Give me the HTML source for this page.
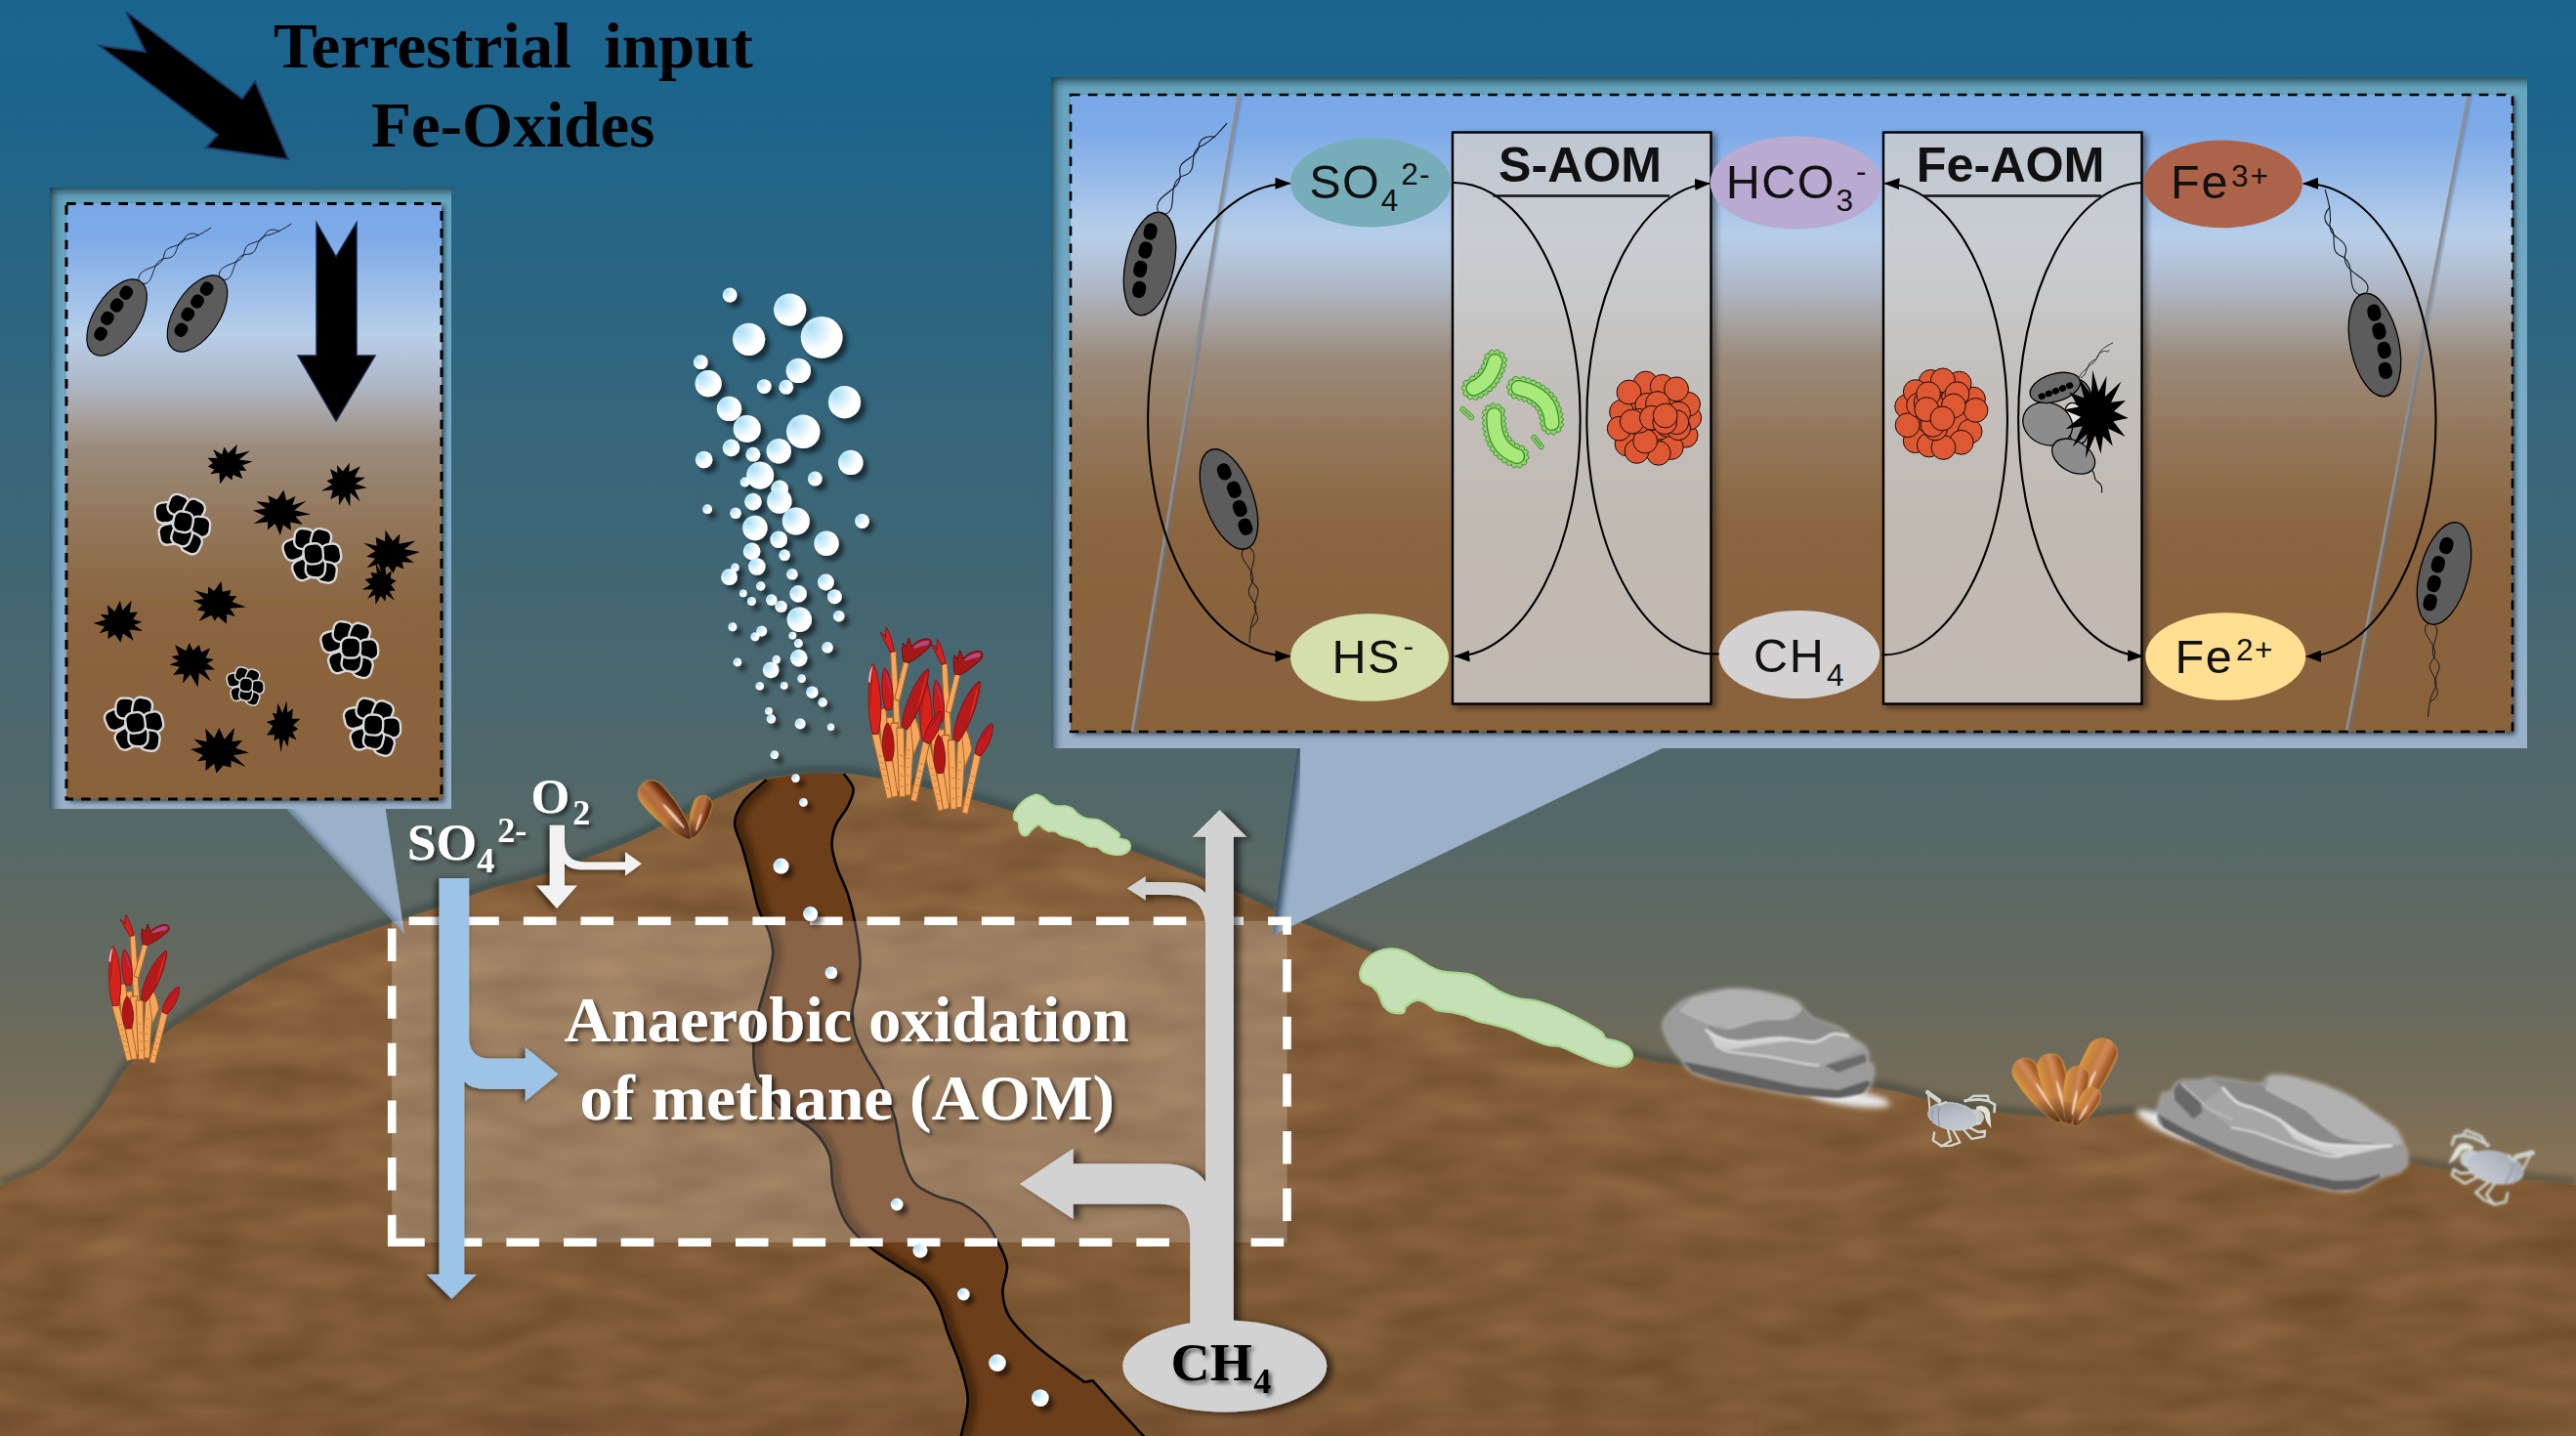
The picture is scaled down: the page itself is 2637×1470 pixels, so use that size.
<!DOCTYPE html>
<html><head><meta charset="utf-8"><title>AOM schematic</title>
<style>
html,body{margin:0;padding:0;background:#1b6389;overflow:hidden}
svg{display:block}
text{font-family:"Liberation Serif",serif;font-weight:bold}
.sans{font-family:"Liberation Sans",sans-serif;font-weight:normal}
.sansb{font-family:"Liberation Sans",sans-serif;font-weight:bold}
</style></head><body>
<svg width="2637" height="1470" viewBox="0 0 2637 1470">
<defs>
<linearGradient id="water" x1="0" y1="0" x2="0" y2="1">
<stop offset="0" stop-color="#1a6590"/><stop offset="0.06" stop-color="#1b648c"/><stop offset="0.56" stop-color="#536869"/><stop offset="0.70" stop-color="#68695d"/><stop offset="0.76" stop-color="#756c58"/><stop offset="0.82" stop-color="#8a7355"/><stop offset="1" stop-color="#96734b"/></linearGradient>
<filter id="sedtex" x="0" y="0" width="100%" height="100%" color-interpolation-filters="sRGB">
<feTurbulence type="fractalNoise" baseFrequency="0.012 0.034" numOctaves="2" seed="11" result="n"/>
<feColorMatrix in="n" type="matrix" values="0.17 0 0 0 0.44  0.152 0 0 0 0.3  0.125 0 0 0 0.166  0 0 0 0 1"/>
</filter>
<linearGradient id="seddk" x1="0" y1="0" x2="0" y2="1"><stop offset="0" stop-color="#3a2208" stop-opacity="0"/><stop offset="1" stop-color="#3a2208" stop-opacity="0.14"/></linearGradient>
<clipPath id="sedclip"><path d="M0,1214 C8.3,1210.2 33.3,1203.7 50,1191 C66.7,1178.3 86.7,1154.3 100,1138 C113.3,1121.7 118.3,1106.5 130,1093 C141.7,1079.5 154.0,1069.0 170,1057 C186.0,1045.0 204.2,1033.7 226,1021 C247.8,1008.3 271.8,993.7 301,981 C330.2,968.3 376.0,953.8 401,945 C426.0,936.2 434.3,933.8 451,928 C467.7,922.2 484.3,915.2 501,910 C517.7,904.8 534.2,902.3 551,897 C567.8,891.7 585.2,884.5 602,878 C618.8,871.5 635.3,865.5 652,858 C668.7,850.5 685.3,841.2 702,833 C718.7,824.8 738.2,815.0 752,809 C765.8,803.0 772.8,799.8 785,797 C797.2,794.2 811.5,792.8 825,792 C838.5,791.2 853.3,791.2 866,792 C878.7,792.8 887.0,794.5 901,797 C915.0,799.5 933.3,803.2 950,807 C966.7,810.8 975.8,812.8 1001,820 C1026.2,827.2 1076.0,842.0 1101,850 C1126.0,858.0 1125.8,858.5 1151,868 C1176.2,877.5 1223.5,895.0 1252,907 C1280.5,919.0 1296.7,928.7 1322,940 C1347.3,951.3 1373.0,961.7 1404,975 C1435.0,988.3 1475.3,1006.5 1508,1020 C1540.7,1033.5 1572.3,1045.7 1600,1056 C1627.7,1066.3 1654.8,1076.3 1674,1082 C1693.2,1087.7 1694.0,1087.0 1715,1090 C1736.0,1093.0 1765.3,1096.0 1800,1100 C1834.7,1104.0 1893.8,1109.7 1923,1114 C1952.2,1118.3 1953.3,1121.7 1975,1126 C1996.7,1130.3 2027.2,1136.8 2053,1140 C2078.8,1143.2 2108.5,1145.0 2130,1145 C2151.5,1145.0 2165.3,1139.8 2182,1140 C2198.7,1140.2 2205.3,1141.7 2230,1146 C2254.7,1150.3 2290.3,1158.3 2330,1166 C2369.7,1173.7 2429.7,1185.5 2468,1192 C2506.3,1198.5 2531.8,1201.5 2560,1205 C2588.2,1208.5 2624.2,1211.7 2637,1213 L2637,1470 L0,1470 Z"/></clipPath>
<linearGradient id="insg" x1="0" y1="0" x2="0" y2="1">
<stop offset="0" stop-color="#79a7e8"/><stop offset="0.06" stop-color="#7eabe8"/><stop offset="0.22" stop-color="#b7cee9"/>
<stop offset="0.30" stop-color="#afb8c8"/><stop offset="0.35" stop-color="#a8a5a6"/><stop offset="0.41" stop-color="#9b8b7c"/>
<stop offset="0.53" stop-color="#93775b"/><stop offset="0.68" stop-color="#8a653f"/><stop offset="1" stop-color="#89623b"/></linearGradient>
<filter id="blur3" x="-10%" y="-10%" width="120%" height="120%"><feGaussianBlur stdDeviation="3"/></filter>
<filter id="blur5" x="-10%" y="-10%" width="120%" height="120%"><feGaussianBlur stdDeviation="5"/></filter>
<filter id="blur2" x="-10%" y="-10%" width="120%" height="120%"><feGaussianBlur stdDeviation="2"/></filter>
<filter id="blur1" x="-10%" y="-10%" width="120%" height="120%"><feGaussianBlur stdDeviation="1.2"/></filter>
<filter id="shIn" x="-3%" y="-3%" width="108%" height="108%"><feGaussianBlur in="SourceAlpha" stdDeviation="2.5"/><feOffset dx="3" dy="3"/><feComponentTransfer><feFuncA type="linear" slope="0.55"/></feComponentTransfer><feMerge><feMergeNode/><feMergeNode in="SourceGraphic"/></feMerge></filter>
<clipPath id="coL"><path d="M291,826 L394.3,826 L414.1,956 Z"/></clipPath><clipPath id="coR"><path d="M1327.8,764 L1706,764 L1301.7,958 Z"/></clipPath>
<linearGradient id="gfcl" gradientUnits="userSpaceOnUse" x1="0" y1="192" x2="0" y2="828"><stop offset="0" stop-color="#65a3bd"/><stop offset="0.5" stop-color="#7aabc8"/><stop offset="1" stop-color="#9ab1c9"/></linearGradient>
<linearGradient id="gfcr" gradientUnits="userSpaceOnUse" x1="0" y1="79" x2="0" y2="766"><stop offset="0" stop-color="#65a3bd"/><stop offset="0.5" stop-color="#7aabc8"/><stop offset="1" stop-color="#9ab1c9"/></linearGradient>
<g id="bact"><ellipse cx="0" cy="0" rx="23" ry="44" fill="#5c5c5c" stroke="#000" stroke-width="1.2"/>
<g fill="#000"><rect x="-12" y="-33.5" width="12.5" height="14" rx="5.5"/><rect x="-13" y="-17.5" width="12.5" height="14" rx="5.5"/><rect x="-14" y="-1" width="12.5" height="14" rx="5.5"/><rect x="-11" y="16" width="12.5" height="14" rx="5.5"/></g></g>
<g id="flag" fill="none" stroke="#101820" stroke-width="1.1"><path d="M-3,0 C-17,-14 11,-30 -2,-46 C-11,-58 9,-66 2,-80 C0,-88 6,-93 13,-95"/><path d="M3,0 C19,-10 -13,-30 4,-46 C15,-58 -7,-68 6,-82 C12,-92 14,-100 17,-113"/></g>
<filter id="shBox" x="-10%" y="-5%" width="125%" height="112%"><feGaussianBlur in="SourceAlpha" stdDeviation="3"/><feOffset dx="4" dy="3"/><feComponentTransfer><feFuncA type="linear" slope="0.55"/></feComponentTransfer><feMerge><feMergeNode/><feMergeNode in="SourceGraphic"/></feMerge></filter>
<marker id="ah" viewBox="0 0 16 12" refX="15" refY="6" markerWidth="16" markerHeight="12" markerUnits="userSpaceOnUse" orient="auto-start-reverse"><path d="M0,0 L16,6 L0,12 Z" fill="#000"/></marker>
<clipPath id="rclip"><rect x="1096" y="97" width="1476" height="652"/></clipPath>
<filter id="shL" x="-30%" y="-10%" width="160%" height="120%"><feGaussianBlur in="SourceAlpha" stdDeviation="3.2"/><feOffset dx="-3.5" dy="0.5" result="b"/><feComponentTransfer><feFuncA type="linear" slope="0.62"/></feComponentTransfer><feMerge><feMergeNode/><feMergeNode in="SourceGraphic"/></feMerge></filter>
<filter id="shR" x="-30%" y="-10%" width="160%" height="120%"><feGaussianBlur in="SourceAlpha" stdDeviation="3.5"/><feOffset dx="6" dy="2" result="b"/><feComponentTransfer><feFuncA type="linear" slope="0.6"/></feComponentTransfer><feMerge><feMergeNode/><feMergeNode in="SourceGraphic"/></feMerge></filter>
<filter id="shT" x="-5%" y="-20%" width="110%" height="150%"><feGaussianBlur in="SourceAlpha" stdDeviation="2.2"/><feOffset dx="3" dy="3" result="b"/><feComponentTransfer><feFuncA type="linear" slope="0.6"/></feComponentTransfer><feMerge><feMergeNode/><feMergeNode in="SourceGraphic"/></feMerge></filter>
<clipPath id="chclip"><path d="M784.7,798.1 C780.8,801.8 766.8,812.8 761.4,820.2 C756.0,827.6 752.3,834.8 752.1,842.7 C751.9,850.6 757.3,858.2 760.1,867.8 C762.9,877.4 766.2,889.9 768.9,900.4 C771.6,910.9 773.3,921.3 776.4,930.5 C779.5,939.7 785.3,947.7 787.7,955.6 C790.1,963.5 791.6,969.3 791,978.1 C790.4,986.9 786.4,998.2 783.9,1008.2 C781.4,1018.2 777.8,1027.8 775.7,1038.3 C773.6,1048.8 771.7,1060.5 771.4,1070.9 C771.1,1081.4 772.2,1094.2 773.9,1101 C775.6,1107.8 776.6,1105.9 781.4,1112 C786.2,1118.1 794.1,1130.0 802.7,1137.6 C811.3,1145.2 825.1,1150.1 832.8,1157.6 C840.5,1165.1 845.8,1173.1 849.1,1182.7 C852.5,1192.3 850.2,1204.0 852.9,1215.3 C855.6,1226.6 859.1,1240.2 865.4,1250.4 C871.7,1260.6 881.3,1269.0 890.5,1276.7 C899.7,1284.4 911.4,1290.7 920.6,1296.8 C929.8,1302.9 939.0,1306.6 945.7,1313.1 C952.4,1319.6 956.5,1326.9 960.7,1335.7 C964.9,1344.5 966.9,1355.3 970.7,1365.8 C974.5,1376.2 979.9,1387.1 983.3,1398.4 C986.6,1409.7 990.8,1421.2 990.8,1433.5 C990.8,1445.8 984.5,1465.6 983.3,1472 L1172.5,1472 C1167.3,1466.4 1150.3,1448.3 1141.3,1438.5 C1132.3,1428.7 1122.5,1417.6 1118.7,1413.4 L1109.9,1414.7 C1106.8,1412.4 1099.7,1407.4 1091.1,1400.9 C1082.5,1394.4 1068.1,1384.6 1058.5,1375.8 C1048.9,1367.0 1038.8,1357.0 1033.4,1348.2 C1028.1,1339.4 1026.8,1331.9 1026.4,1323.1 C1026.0,1314.3 1031.8,1304.4 1030.9,1295.6 C1030.0,1286.8 1024.7,1278.0 1020.9,1270.5 C1017.1,1263.0 1014.2,1256.7 1008.4,1250.4 C1002.5,1244.1 994.2,1237.3 985.8,1232.9 C977.4,1228.5 966.6,1227.9 958.2,1224.1 C949.8,1220.3 941.5,1217.6 935.6,1210.3 C929.8,1203.0 926.4,1191.5 923.1,1180.2 C919.8,1168.9 919.4,1155.0 915.6,1142.6 C911.8,1130.2 905.3,1115.9 900.5,1106 C895.7,1096.1 891.0,1091.3 886.8,1083.4 C882.6,1075.5 877.9,1066.3 875.5,1058.4 C873.1,1050.5 872.2,1043.8 872.5,1035.8 C872.8,1027.8 876.2,1019.5 877.5,1010.7 C878.8,1001.9 880.8,994.0 880.5,983.1 C880.2,972.2 877.6,956.8 875.5,945.5 C873.4,934.2 871.1,925.0 868,915.4 C864.9,905.8 859.4,896.2 856.7,887.9 C854.0,879.5 851.8,872.4 851.6,865.3 C851.4,858.2 852.7,851.9 855.4,845.2 C858.1,838.5 865.0,831.5 868,825.2 C871.0,818.9 874.2,813.1 873.5,807.6 C872.8,802.1 865.3,794.7 863.7,792.1 Q825,789 784.7,798.1 Z"/></clipPath>
<g id="tw"><path d="M55.7,149.8 L48.5,37.4 L43.1,37.8 L49.3,150.2 Z" fill="#f6a75c" stroke="#a4642a" stroke-width="1" stroke-linejoin="round"/><path d="M52.0,80.7 L61.4,47.1 L56.4,45.7 L47.0,79.3 Z" fill="#f6a75c" stroke="#a4642a" stroke-width="1" stroke-linejoin="round"/><path d="M47.5,149.9 L45.5,94.9 L38.5,95.1 L40.5,150.1 Z" fill="#f6a75c" stroke="#a4642a" stroke-width="1" stroke-linejoin="round"/><path d="M53.5,159.8 L50.5,99.8 L43.5,100.2 L46.5,160.2 Z" fill="#f6a75c" stroke="#a4642a" stroke-width="1" stroke-linejoin="round"/><path d="M43.2,38.5 Q38,30 33.2,21.3 Q36.5,22 38.5,26 Q38,20 38.9,16.3 Q44,24 47,37.6 Z" fill="#d42222" stroke="#8a1212" stroke-width="0.9" stroke-linejoin="round"/><path d="M56.2,46.8 Q53.5,38 55.5,30.5 L58.5,33.5 L61,26 Q63.2,30 64,33.5 Q71,26.5 80,26.5 Q85.5,28 82,33.5 Q72,42.5 61.5,47.5 Z" fill="#a41818" stroke="#701010" stroke-width="0.9" stroke-linejoin="round"/><path d="M66,33.6 Q73,28 80.5,28.2 Q82.5,29.5 80,32 Q73,33 66,35.5 Z" fill="#b04a86"/><path d="M44.7,159.7 L38.7,87.5 L31.3,88.1 L38.3,160.3 Z" fill="#f6a75c" stroke="#a4642a" stroke-width="1" stroke-linejoin="round"/><path d="M44.0,88.2 C47.7,78.7 44.5,59.9 38.0,52.6 L36.8,52.8 C33.2,61.1 34.4,80.2 38.8,88.8 Z" fill="#c81c1c" stroke="#8a1212" stroke-width="0.9" stroke-linejoin="round"/><path d="M44.2,75.5 Q42.2,63.0 37.5,53.8 Q39.8,63.3 44.2,75.5 Z" fill="#a33c86"/><path d="M62.9,163.2 L67.0,100.2 L59.0,99.8 L56.1,162.8 Z" fill="#f6a75c" stroke="#a4642a" stroke-width="1" stroke-linejoin="round"/><path d="M65,92 Q71,100 72.5,113 L66,128 L63,101 Z" fill="#f6a75c" stroke="#a4642a" stroke-width="0.9"/><path d="M57.8,164.2 L56.2,104.0 L49.2,104.2 L51.8,164.4 Z" fill="#f6a75c" stroke="#a4642a" stroke-width="1" stroke-linejoin="round"/><path d="M53.2,154.9 L56.2,155.8 M52.9,145.8 L55.9,146.7 M52.5,136.8 L55.5,137.7 M52.1,127.8 L55.1,128.7 " stroke="#b9742f" stroke-width="0.7" fill="none"/><path d="M57.8,153.2 L60.8,154.1 M58.3,145.6 L61.3,146.5 M58.7,138.0 L61.7,138.9 M59.1,130.5 L62.1,131.4 M59.6,122.9 L62.6,123.8 " stroke="#b9742f" stroke-width="0.7" fill="none"/><path d="M59.4,105.6 C69.8,94.9 81.2,67.3 80.8,53.5 L79.8,53.1 C67.8,61.2 54.3,87.8 54.6,103.4 Z" fill="#b51a1a" stroke="#8a1212" stroke-width="0.9" stroke-linejoin="round"/><path d="M69.4,88.5 Q76.9,70.3 79.6,54.8 Q74.5,69.2 69.4,88.5 Z" fill="#e8381f"/><path d="M45.5,164.8 L31.6,108.2 L24.8,110.0 L39.7,166.2 Z" fill="#f6a75c" stroke="#a4642a" stroke-width="1" stroke-linejoin="round"/><path d="M38.8,156.6 L41.8,157.5 M37.4,151.0 L40.4,151.9 M36.0,145.4 L39.0,146.3 M34.5,139.7 L37.5,140.6 M33.1,134.1 L36.1,135.0 M31.6,128.4 L34.6,129.3 " stroke="#b9742f" stroke-width="0.7" fill="none"/><path d="M30.8,109.4 C36.3,94.0 33.7,61.9 26.3,48.9 L25.1,48.9 C20.1,62.5 20.5,94.6 25.6,109.6 Z" fill="#d8221c" stroke="#8a1212" stroke-width="0.9" stroke-linejoin="round"/><path d="M23.1,88.5 Q22.9,67.2 25.8,50.7 Q25.3,67.1 23.1,88.5 Z" fill="#a31616"/><path d="M21.5,64 Q22,54 25.7,49.5 Q23.8,58 23.2,65 Z" fill="#f4b4c0"/><path d="M50.5,163.7 L44.8,131.0 L38.0,132.4 L44.7,164.9 Z" fill="#f6a75c" stroke="#a4642a" stroke-width="1" stroke-linejoin="round"/><path d="M44.2,132.9 C48.5,124.5 46.7,107.2 40.7,100.3 L39.5,100.3 C34.2,107.8 33.9,125.2 39.0,133.1 Z" fill="#b01616" stroke="#8a1212" stroke-width="0.9" stroke-linejoin="round"/><path d="M68.6,168.7 L81.7,117.4 L75.1,115.8 L63.0,167.3 Z" fill="#f6a75c" stroke="#a4642a" stroke-width="1" stroke-linejoin="round"/><path d="M66.1,159.9 L69.1,160.8 M67.6,153.7 L70.6,154.6 M69.1,147.6 L72.1,148.5 M70.6,141.4 L73.6,142.3 M72.1,135.2 L75.1,136.1 " stroke="#b9742f" stroke-width="0.7" fill="none"/><path d="M80.7,118.2 C87.6,113.3 94.4,98.8 93.3,90.6 L92.3,90.0 C84.8,93.6 76.4,107.3 76.1,115.8 Z" fill="#c41c1c" stroke="#8a1212" stroke-width="0.9" stroke-linejoin="round"/><path d="M80.5,106.1 Q85.9,96.9 92.4,91.1 Q87.6,97.9 80.5,106.1 Z" fill="#8e1430"/></g>
<linearGradient id="mus" x1="0" y1="0" x2="1" y2="0"><stop offset="0" stop-color="#d6a048"/><stop offset="0.1" stop-color="#c4863a"/><stop offset="0.32" stop-color="#b06a38"/><stop offset="0.5" stop-color="#b8744a"/><stop offset="0.6" stop-color="#b06438"/><stop offset="0.68" stop-color="#9a5028"/><stop offset="0.82" stop-color="#683016"/><stop offset="0.94" stop-color="#5a2810"/><stop offset="1" stop-color="#8a5020"/></linearGradient>
<linearGradient id="mus2" x1="0" y1="0" x2="1" y2="0"><stop offset="0" stop-color="#dba040"/><stop offset="0.12" stop-color="#cf8c3c"/><stop offset="0.35" stop-color="#c47a40"/><stop offset="0.55" stop-color="#cc8a58"/><stop offset="0.66" stop-color="#c47c48"/><stop offset="0.74" stop-color="#b46a38"/><stop offset="0.9" stop-color="#9a5424"/><stop offset="1" stop-color="#c4883a"/></linearGradient>
<linearGradient id="musd" x1="0" y1="0" x2="0" y2="1"><stop offset="0" stop-color="#000" stop-opacity="0"/><stop offset="0.6" stop-color="#000" stop-opacity="0"/><stop offset="1" stop-color="#2a0e04" stop-opacity="0.7"/></linearGradient>
<filter id="blur06" x="-10%" y="-10%" width="120%" height="120%"><feGaussianBlur stdDeviation="0.7"/></filter>
<filter id="blur08" x="-5%" y="-5%" width="110%" height="110%"><feGaussianBlur stdDeviation="0.9"/></filter>
<filter id="blur4" x="-20%" y="-40%" width="140%" height="180%"><feGaussianBlur stdDeviation="3.2"/></filter>
<linearGradient id="crb" x1="0" y1="0" x2="1" y2="1"><stop offset="0" stop-color="#99a2ad"/><stop offset="0.5" stop-color="#b7bec8"/><stop offset="1" stop-color="#c6ccd2"/></linearGradient>
<g id="crab"><g filter="url(#blur06)"><path d="M52.0,27.6 L60.2,21.9 L74.6,21.6 L75.8,26.3" fill="none" stroke="#cfd6d0" stroke-width="2.3400000000000003" stroke-linecap="round" stroke-linejoin="round"/><path d="M51.4,26.6 L65.8,25.4 L75.2,26.9 L82.1,30.7 L81.5,38.2" fill="none" stroke="#cfd6d0" stroke-width="2.6" stroke-linecap="round" stroke-linejoin="round"/><path d="M14.1,20.1 L15.4,35.1" fill="none" stroke="#cfd6d0" stroke-width="1.9500000000000002" stroke-linecap="round" stroke-linejoin="round"/><path d="M48.9,55.1 L58.3,65.8 L71.4,63.3 L72.1,57.6 L65.2,58.9 L55.1,53.9" fill="none" stroke="#cfd6d0" stroke-width="2.3400000000000003" stroke-linecap="round" stroke-linejoin="round"/><path d="M33.8,55.8 L37.0,67.7 L27.6,73.3 L18.8,67.4 L20.1,59.5" fill="none" stroke="#cfd6d0" stroke-width="2.3400000000000003" stroke-linecap="round" stroke-linejoin="round"/><path d="M38.8,55.8 L46.4,69.5 L37.6,72.7 L26.9,73.0" fill="none" stroke="#cfd6d0" stroke-width="2.3400000000000003" stroke-linecap="round" stroke-linejoin="round"/><path d="M59.5,37.6 L62.7,45.1 L60.2,49.5 L67.0,50.1" fill="none" stroke="#cfd6d0" stroke-width="2.08" stroke-linecap="round" stroke-linejoin="round"/><ellipse cx="61" cy="44" rx="10" ry="8.5" fill="#cdd4d4" opacity="0.9"/><ellipse cx="39" cy="42.8" rx="25.5" ry="13.8" transform="rotate(9 39 42.8)" fill="url(#crb)" stroke="#d4dade" stroke-width="0.8"/><path d="M25.1,31.3 L24.1,42.6 L25.1,53.3" fill="none" stroke="#8a94a2" stroke-width="1.3" stroke-linecap="round" stroke-linejoin="round"/><path d="M18.8,35.1 L17.9,43.2 L18.8,50.1" fill="none" stroke="#96a0ae" stroke-width="1.1700000000000002" stroke-linecap="round" stroke-linejoin="round"/><path d="M13.2,18.2 L25.1,26.9" fill="none" stroke="#cfd6d0" stroke-width="4.42" stroke-linecap="round" stroke-linejoin="round"/><path d="M25.1,31.3 L32.0,28.2" fill="none" stroke="#cfd6d0" stroke-width="2.3400000000000003" stroke-linecap="round" stroke-linejoin="round"/><path d="M63,33 Q74,29.5 77,39 L78.4,55 Q72,48 71.5,40 Q68,36 63.5,36.5 Z" fill="#dfe3da"/></g></g>
<radialGradient id="bub" cx="0.3" cy="0.32" r="0.75" fx="0.22" fy="0.25"><stop offset="0" stop-color="#a9def6"/><stop offset="0.35" stop-color="#d3eefb"/><stop offset="0.7" stop-color="#ffffff"/><stop offset="1" stop-color="#ffffff"/></radialGradient>
<filter id="shBub" x="-5%" y="-5%" width="115%" height="112%"><feGaussianBlur in="SourceAlpha" stdDeviation="2.6"/><feOffset dx="5" dy="5"/><feComponentTransfer><feFuncA type="linear" slope="0.55"/></feComponentTransfer><feMerge><feMergeNode/><feMergeNode in="SourceGraphic"/></feMerge></filter>
</defs>
<rect width="2637" height="1470" fill="url(#water)"/>
<path d="M0,1214 C8.3,1210.2 33.3,1203.7 50,1191 C66.7,1178.3 86.7,1154.3 100,1138 C113.3,1121.7 118.3,1106.5 130,1093 C141.7,1079.5 154.0,1069.0 170,1057 C186.0,1045.0 204.2,1033.7 226,1021 C247.8,1008.3 271.8,993.7 301,981 C330.2,968.3 376.0,953.8 401,945 C426.0,936.2 434.3,933.8 451,928 C467.7,922.2 484.3,915.2 501,910 C517.7,904.8 534.2,902.3 551,897 C567.8,891.7 585.2,884.5 602,878 C618.8,871.5 635.3,865.5 652,858 C668.7,850.5 685.3,841.2 702,833 C718.7,824.8 738.2,815.0 752,809 C765.8,803.0 772.8,799.8 785,797 C797.2,794.2 811.5,792.8 825,792 C838.5,791.2 853.3,791.2 866,792 C878.7,792.8 887.0,794.5 901,797 C915.0,799.5 933.3,803.2 950,807 C966.7,810.8 975.8,812.8 1001,820 C1026.2,827.2 1076.0,842.0 1101,850 C1126.0,858.0 1125.8,858.5 1151,868 C1176.2,877.5 1223.5,895.0 1252,907 C1280.5,919.0 1296.7,928.7 1322,940 C1347.3,951.3 1373.0,961.7 1404,975 C1435.0,988.3 1475.3,1006.5 1508,1020 C1540.7,1033.5 1572.3,1045.7 1600,1056 C1627.7,1066.3 1654.8,1076.3 1674,1082 C1693.2,1087.7 1694.0,1087.0 1715,1090 C1736.0,1093.0 1765.3,1096.0 1800,1100 C1834.7,1104.0 1893.8,1109.7 1923,1114 C1952.2,1118.3 1953.3,1121.7 1975,1126 C1996.7,1130.3 2027.2,1136.8 2053,1140 C2078.8,1143.2 2108.5,1145.0 2130,1145 C2151.5,1145.0 2165.3,1139.8 2182,1140 C2198.7,1140.2 2205.3,1141.7 2230,1146 C2254.7,1150.3 2290.3,1158.3 2330,1166 C2369.7,1173.7 2429.7,1185.5 2468,1192 C2506.3,1198.5 2531.8,1201.5 2560,1205 C2588.2,1208.5 2624.2,1211.7 2637,1213" fill="none" stroke="#1c2a2c" stroke-width="9" opacity="0.38" filter="url(#blur3)" transform="translate(0,-3)"/>
<g clip-path="url(#sedclip)"><rect x="0" y="780" width="2637" height="690" fill="#86603a" filter="url(#sedtex)"/><rect x="0" y="1000" width="2637" height="470" fill="url(#seddk)"/><rect x="0" y="1446" width="1800" height="24" fill="#7a4a3a" opacity="0.2"/></g>
<path d="M291,826 L394.3,826 L414.1,956 Z" fill="#9ab1c9"/>
<g clip-path="url(#coL)"><path d="M289,826 L412.1,956" stroke="#2c4252" stroke-width="9" opacity="0.55" filter="url(#blur3)"/></g>
<path d="M1327.8,764 L1706,764 L1301.7,958 Z" fill="#9ab1c9"/>
<g clip-path="url(#coR)"><path d="M1327.8,760 L1300.7,960" stroke="#2c4252" stroke-width="14" opacity="0.85" filter="url(#blur3)"/></g>
<clipPath id="fcl"><rect x="51" y="192" width="411" height="636"/></clipPath><rect x="51" y="192" width="411" height="636" fill="url(#gfcl)"/><g clip-path="url(#fcl)"><path d="M21,162 H492 V858 H21 Z M54,195 V840 H474 V195 Z" fill="#15303c" fill-rule="evenodd" opacity="0.95" filter="url(#blur5)"/></g><rect x="68" y="208" width="384" height="610" fill="url(#insg)" filter="url(#shIn)"/>
<clipPath id="fcr"><rect x="1076" y="79" width="1511" height="687"/></clipPath><rect x="1076" y="79" width="1511" height="687" fill="url(#gfcr)"/><g clip-path="url(#fcr)"><path d="M1046,49 H2617 V796 H1046 Z M1079,82 V778 H2599 V82 Z" fill="#15303c" fill-rule="evenodd" opacity="0.95" filter="url(#blur5)"/></g><rect x="1096" y="97" width="1476" height="652" fill="url(#insg)" filter="url(#shIn)"/>
<path d="M129,12 L149,53 L102,47 L223,138 L211,151 L295,163 L261,83 L248,101 Z" fill="#000" stroke="#1f3864" stroke-width="2" stroke-linejoin="miter"/>
<path d="M324,228 L344,263 L365,228 V364 H384 L344,431 L305,364 H324 Z" fill="#000" stroke="#14264a" stroke-width="1.5"/>
<use href="#flag" transform="translate(143.6,288.5) rotate(44) scale(0.8)"/><use href="#bact" transform="translate(119.6,325) rotate(33) scale(1,1)"/>
<use href="#flag" transform="translate(226,284.5) rotate(44) scale(0.8)"/><use href="#bact" transform="translate(202,321) rotate(33) scale(1,1)"/>
<path d="M252.3,482.0 L245.3,481.8 L248.3,490.1 L238.3,486.0 L237.5,491.5 L231.5,487.1 L225.2,495.4 L224.4,483.9 L215.1,485.2 L219.5,480.7 L212.9,477.4 L217.8,473.9 L212.5,468.8 L222.3,469.1 L218.2,460.1 L227.1,465.2 L229.5,457.5 L233.6,464.0 L242.9,454.7 L241.0,465.2 L255.9,461.6 L244.9,470.5 L258.8,472.4 L248.2,476.2 Z" fill="#000"/>
<path d="M368.8,513.4 L358.6,504.6 L358.3,518.7 L352.9,508.3 L347.0,517.3 L346.8,506.9 L338.4,511.1 L340.8,501.4 L328.9,502.6 L339.9,496.0 L334.5,492.2 L341.0,489.4 L337.9,479.9 L345.4,484.0 L345.0,476.3 L350.9,482.5 L357.9,473.7 L357.3,482.9 L368.8,477.2 L363.2,488.4 L374.1,488.7 L363.9,495.3 L375.9,499.3 L363.2,501.6 Z" fill="#000"/>
<path d="M297.9,543.0 L289.8,537.3 L286.9,547.9 L281.7,535.9 L274.0,542.2 L274.1,534.3 L259.9,536.0 L271.2,528.2 L258.8,522.4 L272.1,520.5 L262.1,513.3 L276.2,514.8 L274.3,507.3 L283.6,511.6 L290.4,501.5 L293.2,512.6 L302.4,507.9 L299.4,517.2 L313.6,512.7 L301.4,522.2 L318.4,526.4 L302.5,528.8 L309.9,536.9 L297.1,534.5 Z" fill="#000"/>
<path d="M402.6,586.8 L397.1,579.5 L389.6,584.1 L387.5,577.2 L375.5,581.6 L384.2,571.8 L375.1,569.8 L384.3,564.2 L372.2,555.8 L385.7,558.8 L384.7,550.0 L394.1,554.2 L394.5,542.5 L402.1,554.1 L409.3,546.6 L408.4,556.7 L425.3,553.5 L413.9,562.2 L429.8,565.0 L415.6,570.0 L423.8,576.0 L411.5,575.3 L413.4,582.6 L405.8,579.4 Z" fill="#000"/>
<path d="M384.5,619.0 L384.0,608.8 L375.9,612.9 L382.0,603.6 L370.7,603.4 L379.2,598.5 L373.5,592.9 L381.4,591.4 L379.6,585.8 L385.8,587.3 L384.6,575.8 L389.6,584.9 L394.0,576.5 L395.1,588.6 L400.7,584.2 L399.8,592.1 L405.7,594.5 L400.1,598.5 L404.6,604.4 L398.5,605.3 L403.9,614.8 L395.1,608.3 L394.5,615.8 L389.7,610.0 Z" fill="#000"/>
<path d="M203.6,635.9 L210.3,625.9 L201.8,624.4 L206.9,619.2 L197.3,614.7 L208.7,613.1 L199.3,604.4 L212.9,608.0 L213.1,600.5 L219.3,605.1 L226.4,594.9 L227.8,605.7 L236.4,603.9 L234.7,609.9 L242.4,610.2 L237.5,615.9 L251.9,621.4 L235.3,622.7 L240.9,631.1 L232.1,628.5 L231.9,638.7 L223.1,631.0 L219.7,635.7 L216.5,629.8 Z" fill="#000"/>
<path d="M101.7,648.2 L107.2,641.4 L95.6,638.0 L108.3,634.3 L102.5,628.7 L111.2,629.6 L109.7,619.0 L117.4,626.1 L122.9,614.9 L125.4,624.7 L134.7,614.7 L132.8,627.1 L140.9,626.4 L136.3,634.1 L145.3,636.7 L137.3,639.7 L146.1,646.1 L132.6,644.5 L136.8,656.0 L126.1,648.5 L123.4,657.8 L117.8,649.6 L110.4,653.9 L110.9,645.6 Z" fill="#000"/>
<path d="M173.4,680.4 L182.8,676.7 L175.6,672.2 L182.9,670.4 L179.1,660.2 L190.5,666.3 L193.8,658.1 L197.6,665.9 L203.7,660.1 L206.2,667.8 L215.2,663.2 L210.6,673.4 L219.0,674.9 L211.9,679.3 L220.1,685.6 L209.4,685.7 L216.0,697.6 L203.9,688.7 L202.5,703.4 L194.9,690.3 L187.2,699.4 L188.1,689.8 L177.2,690.9 L183.9,682.8 Z" fill="#000"/>
<path d="M272.8,738.9 L281.5,736.6 L278.9,729.8 L283.2,730.9 L284.4,719.5 L289.1,730.0 L293.4,717.4 L294.2,729.4 L299.8,725.5 L298.9,735.7 L307.4,735.7 L300.1,742.5 L305.1,746.3 L299.5,749.8 L303.6,757.4 L295.9,753.9 L294.7,764.5 L290.2,756.4 L287.5,770.2 L285.6,755.5 L280.4,758.6 L281.2,752.3 L273.1,752.5 L279.5,743.3 Z" fill="#000"/>
<path d="M198.5,756.4 L211.7,759.2 L210.2,745.4 L219.3,755.4 L224.3,745.3 L229.7,756.7 L240.2,744.7 L237.5,759.1 L248.3,757.8 L241.1,765.7 L254.9,770.4 L239.0,773.2 L251.5,785.0 L236.6,778.7 L236.4,785.8 L228.6,783.4 L221.5,791.4 L219.1,781.7 L210.4,789.3 L210.8,778.0 L201.8,779.5 L207.9,772.9 L195.0,767.1 L207.3,764.8 Z" fill="#000"/>
<g transform="translate(186,537) rotate(10) scale(1)" fill="#000" stroke="#d9d9d9" stroke-width="2.4"><rect x="-29" y="-19.5" width="20" height="21" rx="7.5" transform="rotate(-15 -19 -9)"/><rect x="-17" y="-29.5" width="20" height="21" rx="7.5" transform="rotate(10 -7 -19)"/><rect x="0" y="-27.5" width="20" height="21" rx="7.5" transform="rotate(20 10 -17)"/><rect x="9" y="-11.5" width="20" height="21" rx="7.5" transform="rotate(-5 19 -1)"/><rect x="3" y="6.5" width="20" height="21" rx="7.5" transform="rotate(15 13 17)"/><rect x="-21" y="1.5" width="20" height="21" rx="7.5" transform="rotate(-20 -11 12)"/><rect x="-8" y="0.5" width="20" height="21" rx="7.5" transform="rotate(10 2 11)"/><rect x="-9" y="-13.5" width="20" height="21" rx="7.5" transform="rotate(0 1 -3)"/></g>
<g transform="translate(320,570) rotate(-5) scale(1)" fill="#000" stroke="#d9d9d9" stroke-width="2.4"><rect x="-29" y="-19.5" width="20" height="21" rx="7.5" transform="rotate(-15 -19 -9)"/><rect x="-17" y="-29.5" width="20" height="21" rx="7.5" transform="rotate(10 -7 -19)"/><rect x="0" y="-27.5" width="20" height="21" rx="7.5" transform="rotate(20 10 -17)"/><rect x="9" y="-11.5" width="20" height="21" rx="7.5" transform="rotate(-5 19 -1)"/><rect x="3" y="6.5" width="20" height="21" rx="7.5" transform="rotate(15 13 17)"/><rect x="-21" y="1.5" width="20" height="21" rx="7.5" transform="rotate(-20 -11 12)"/><rect x="-8" y="0.5" width="20" height="21" rx="7.5" transform="rotate(10 2 11)"/><rect x="-9" y="-13.5" width="20" height="21" rx="7.5" transform="rotate(0 1 -3)"/></g>
<g transform="translate(358,666) rotate(0) scale(1)" fill="#000" stroke="#d9d9d9" stroke-width="2.4"><rect x="-29" y="-19.5" width="20" height="21" rx="7.5" transform="rotate(-15 -19 -9)"/><rect x="-17" y="-29.5" width="20" height="21" rx="7.5" transform="rotate(10 -7 -19)"/><rect x="0" y="-27.5" width="20" height="21" rx="7.5" transform="rotate(20 10 -17)"/><rect x="9" y="-11.5" width="20" height="21" rx="7.5" transform="rotate(-5 19 -1)"/><rect x="3" y="6.5" width="20" height="21" rx="7.5" transform="rotate(15 13 17)"/><rect x="-21" y="1.5" width="20" height="21" rx="7.5" transform="rotate(-20 -11 12)"/><rect x="-8" y="0.5" width="20" height="21" rx="7.5" transform="rotate(10 2 11)"/><rect x="-9" y="-13.5" width="20" height="21" rx="7.5" transform="rotate(0 1 -3)"/></g>
<g transform="translate(251,703) rotate(5) scale(0.66)" fill="#000" stroke="#d9d9d9" stroke-width="2.4"><rect x="-29" y="-19.5" width="20" height="21" rx="7.5" transform="rotate(-15 -19 -9)"/><rect x="-17" y="-29.5" width="20" height="21" rx="7.5" transform="rotate(10 -7 -19)"/><rect x="0" y="-27.5" width="20" height="21" rx="7.5" transform="rotate(20 10 -17)"/><rect x="9" y="-11.5" width="20" height="21" rx="7.5" transform="rotate(-5 19 -1)"/><rect x="3" y="6.5" width="20" height="21" rx="7.5" transform="rotate(15 13 17)"/><rect x="-21" y="1.5" width="20" height="21" rx="7.5" transform="rotate(-20 -11 12)"/><rect x="-8" y="0.5" width="20" height="21" rx="7.5" transform="rotate(10 2 11)"/><rect x="-9" y="-13.5" width="20" height="21" rx="7.5" transform="rotate(0 1 -3)"/></g>
<g transform="translate(138,743) rotate(-8) scale(1)" fill="#000" stroke="#d9d9d9" stroke-width="2.4"><rect x="-29" y="-19.5" width="20" height="21" rx="7.5" transform="rotate(-15 -19 -9)"/><rect x="-17" y="-29.5" width="20" height="21" rx="7.5" transform="rotate(10 -7 -19)"/><rect x="0" y="-27.5" width="20" height="21" rx="7.5" transform="rotate(20 10 -17)"/><rect x="9" y="-11.5" width="20" height="21" rx="7.5" transform="rotate(-5 19 -1)"/><rect x="3" y="6.5" width="20" height="21" rx="7.5" transform="rotate(15 13 17)"/><rect x="-21" y="1.5" width="20" height="21" rx="7.5" transform="rotate(-20 -11 12)"/><rect x="-8" y="0.5" width="20" height="21" rx="7.5" transform="rotate(10 2 11)"/><rect x="-9" y="-13.5" width="20" height="21" rx="7.5" transform="rotate(0 1 -3)"/></g>
<g transform="translate(381,745) rotate(3) scale(1)" fill="#000" stroke="#d9d9d9" stroke-width="2.4"><rect x="-29" y="-19.5" width="20" height="21" rx="7.5" transform="rotate(-15 -19 -9)"/><rect x="-17" y="-29.5" width="20" height="21" rx="7.5" transform="rotate(10 -7 -19)"/><rect x="0" y="-27.5" width="20" height="21" rx="7.5" transform="rotate(20 10 -17)"/><rect x="9" y="-11.5" width="20" height="21" rx="7.5" transform="rotate(-5 19 -1)"/><rect x="3" y="6.5" width="20" height="21" rx="7.5" transform="rotate(15 13 17)"/><rect x="-21" y="1.5" width="20" height="21" rx="7.5" transform="rotate(-20 -11 12)"/><rect x="-8" y="0.5" width="20" height="21" rx="7.5" transform="rotate(10 2 11)"/><rect x="-9" y="-13.5" width="20" height="21" rx="7.5" transform="rotate(0 1 -3)"/></g>
<g clip-path="url(#rclip)"><path d="M1270.5,96 L1161,750" stroke="#5f7896" stroke-width="3" fill="none" opacity="0.55" filter="url(#blur1)"/><path d="M1268.3,96 L1158.8,750" stroke="#8e8e8e" stroke-width="2.8" fill="none"/><path d="M2529.5,96 L2404,750" stroke="#5f7896" stroke-width="3" fill="none" opacity="0.55" filter="url(#blur1)"/><path d="M2527.3,96 L2401.8,750" stroke="#8e8e8e" stroke-width="2.8" fill="none"/></g>
<g filter="url(#shBox)"><rect x="1487" y="135.5" width="264.5" height="585" fill="#dcdcdc" fill-opacity="0.7" stroke="#000" stroke-width="2.4"/></g>
<g filter="url(#shBox)"><rect x="1928" y="135.5" width="264.5" height="585" fill="#dcdcdc" fill-opacity="0.7" stroke="#000" stroke-width="2.4"/></g>
<ellipse cx="1403.1" cy="186.9" rx="82.3" ry="45.6" fill="#76adb9"/>
<ellipse cx="1402" cy="673" rx="81" ry="44.8" fill="#d5dfa9"/>
<ellipse cx="1838.6" cy="187" rx="87.9" ry="47.5" fill="#b9aad2"/>
<ellipse cx="1841.8" cy="670" rx="82.5" ry="45" fill="#d3d1d1"/>
<ellipse cx="2275.5" cy="188.4" rx="81.4" ry="44.8" fill="#ad634a"/>
<ellipse cx="2278.3" cy="672" rx="82" ry="44.8" fill="#ffdf91"/>
<path d="M1487.8,187 A129,242.4 0 0 1 1489.5,671.8" fill="none" stroke="#000" stroke-width="2.1" marker-end="url(#ah)"/>
<path d="M1759.8,669.4 A130.5,240.8 0 0 1 1750,187.8" fill="none" stroke="#000" stroke-width="2.1" marker-end="url(#ah)"/>
<path d="M1926.4,670.4 A127,241.3 0 0 0 1929.5,187.8" fill="none" stroke="#000" stroke-width="2.1" marker-end="url(#ah)"/>
<path d="M2192.8,187 A129.5,242.4 0 0 0 2193.2,671.7" fill="none" stroke="#000" stroke-width="2.1" marker-end="url(#ah)"/>
<path d="M1320.5,187.8 A145.5,242 0 0 0 1320.5,671.8" fill="none" stroke="#000" stroke-width="2.1" marker-start="url(#ah)" marker-end="url(#ah)"/>
<path d="M2358,188 A134,242 0 0 1 2361,672" fill="none" stroke="#000" stroke-width="2.1" marker-start="url(#ah)" marker-end="url(#ah)"/>
<text class="sansb" x="1617.6" y="185.9" font-size="50.1" text-anchor="middle" fill="#111">S-AOM</text>
<path d="M1528.4,200.5 H1709.2 M1968.7,200.5 H2150.9" stroke="#111" stroke-width="2.3"/>
<text class="sansb" x="2058.1" y="185.9" font-size="50.3" text-anchor="middle" fill="#111">Fe-AOM</text>
<text class="sans" x="1340.2" y="203.3" font-size="48.6" letter-spacing="1.4" fill="#111">SO<tspan font-size="31.5" dy="12.4" dx="0.5">4</tspan><tspan font-size="31.5" dy="-26.8" dx="1.5">2-</tspan></text>
<text class="sans" x="1363.6" y="689" font-size="48.6" letter-spacing="1.4" fill="#111">HS<tspan font-size="31.5" dy="-17" dx="2.5">-</tspan></text>
<text class="sans" x="1766.8" y="203.2" font-size="48.6" letter-spacing="1.4" fill="#111">HCO<tspan font-size="31.5" dy="12.6" dx="0.5">3</tspan><tspan font-size="31.5" dy="-29.6" dx="1.5">-</tspan></text>
<text class="sans" x="1795" y="688" font-size="48.6" letter-spacing="1.6" fill="#111">CH<tspan font-size="31.5" dy="13.5" dx="1.5">4</tspan></text>
<text class="sans" x="2222" y="203.2" font-size="48.6" letter-spacing="1.9" fill="#111">Fe<tspan font-size="31.5" dy="-12.4" dx="1.5">3+</tspan></text>
<text class="sans" x="2226.5" y="689.2" font-size="48.6" letter-spacing="1.6" fill="#111">Fe<tspan font-size="31.5" dy="-13.2" dx="2.5">2+</tspan></text>
<use href="#flag" transform="translate(1188,218) rotate(28) scale(1.0)"/><use href="#bact" transform="translate(1177,270) rotate(12) scale(1.08,1.22)"/>
<use href="#flag" transform="translate(1276.5,561) rotate(170) scale(0.85)"/><use href="#bact" transform="translate(1258,511) rotate(-20) scale(-1.08,-1.22)"/>
<use href="#flag" transform="translate(2420,301) rotate(-29) scale(1.0)"/><use href="#bact" transform="translate(2431,353) rotate(-12) scale(-1.08,1.22)"/>
<use href="#flag" transform="translate(2488,638) rotate(173) scale(0.84)"/><use href="#bact" transform="translate(2502,587) rotate(15) scale(1.08,-1.22)"/>
<path d="M1504.7,388.7 L1504.7,387.4 L1504.9,386.6 L1505.2,386.0 L1505.6,385.5 L1506.0,385.2 L1506.5,385.0 L1507.1,385.0 L1507.8,385.1 L1508.6,385.4 L1509.7,386.0 L1509.5,384.7 L1509.5,383.9 L1509.7,383.2 L1509.9,382.7 L1510.3,382.3 L1510.7,382.0 L1511.3,381.9 L1511.9,381.9 L1512.8,381.9 L1514.0,382.3 L1513.5,381.1 L1513.4,380.3 L1513.4,379.6 L1513.5,379.1 L1513.7,378.6 L1514.1,378.2 L1514.6,378.0 L1515.3,377.8 L1516.1,377.7 L1517.4,377.8 L1516.7,376.7 L1516.4,375.9 L1516.2,375.3 L1516.2,374.7 L1516.3,374.2 L1516.6,373.7 L1517.1,373.3 L1517.7,373.0 L1518.5,372.7 L1519.8,372.6 L1518.9,371.7 L1518.4,371.0 L1518.2,370.3 L1518.1,369.7 L1518.1,369.2 L1518.4,368.7 L1518.7,368.2 L1519.3,367.8 L1520.1,367.4 L1521.3,367.1 L1520.5,366.2 L1520.1,365.3 L1520.0,364.5 L1520.1,363.8 L1520.4,363.1 L1520.9,362.6 L1521.6,362.2 L1522.4,362.0 L1523.3,362.0 L1524.5,362.5 L1524.3,361.2 L1524.5,360.3 L1524.9,359.6 L1525.4,359.0 L1526.0,358.6 L1526.8,358.5 L1527.5,358.5 L1528.3,358.8 L1529.0,359.4 L1529.8,360.4 L1530.3,359.3 L1531.0,358.6 L1531.7,358.2 L1532.4,358.0 L1533.2,358.1 L1533.8,358.4 L1534.4,358.8 L1534.9,359.5 L1535.3,360.4 L1535.3,361.7 L1536.4,361.0 L1537.3,360.8 L1538.1,360.9 L1538.8,361.2 L1539.4,361.6 L1539.8,362.2 L1540.0,363.0 L1540.1,363.8 L1539.8,364.7 L1539.1,365.8 L1540.4,365.8 L1541.2,366.2 L1541.9,366.7 L1542.3,367.4 L1542.5,368.1 L1542.5,368.8 L1542.3,369.5 L1541.9,370.2 L1541.2,370.8 L1540.0,371.3 L1541.0,372.1 L1541.5,372.8 L1541.8,373.5 L1542.0,374.2 L1541.9,374.8 L1541.7,375.3 L1541.2,375.8 L1540.7,376.2 L1539.9,376.6 L1538.6,376.8 L1539.5,377.7 L1540.0,378.5 L1540.2,379.2 L1540.2,379.8 L1540.1,380.4 L1539.8,381.0 L1539.4,381.4 L1538.7,381.8 L1537.9,382.1 L1536.6,382.2 L1537.4,383.2 L1537.8,384.0 L1537.9,384.7 L1537.9,385.3 L1537.7,385.9 L1537.4,386.4 L1536.9,386.8 L1536.2,387.1 L1535.4,387.3 L1534.1,387.3 L1534.8,388.3 L1535.0,389.2 L1535.1,389.9 L1535.0,390.6 L1534.7,391.1 L1534.3,391.6 L1533.8,391.9 L1533.1,392.1 L1532.2,392.2 L1530.9,392.0 L1531.5,393.2 L1531.6,394.0 L1531.6,394.8 L1531.4,395.4 L1531.1,395.9 L1530.6,396.3 L1530.0,396.6 L1529.3,396.7 L1528.4,396.7 L1527.2,396.3 L1527.6,397.5 L1527.6,398.4 L1527.5,399.1 L1527.2,399.7 L1526.9,400.2 L1526.3,400.5 L1525.7,400.7 L1525.0,400.8 L1524.1,400.6 L1522.9,400.1 L1523.2,401.3 L1523.1,402.2 L1522.9,402.9 L1522.5,403.5 L1522.1,403.9 L1521.6,404.2 L1520.9,404.3 L1520.2,404.2 L1519.3,404.0 L1518.2,403.3 L1518.3,404.6 L1518.1,405.4 L1517.8,406.1 L1517.4,406.6 L1516.9,407.0 L1516.4,407.2 L1515.7,407.2 L1515.0,407.1 L1514.2,406.7 L1513.2,405.9 L1513.1,407.2 L1512.8,408.0 L1512.3,408.7 L1511.7,409.2 L1511.0,409.4 L1510.3,409.5 L1509.6,409.3 L1508.9,408.9 L1508.2,408.2 L1507.7,407.1 L1506.9,408.1 L1506.2,408.7 L1505.4,408.9 L1504.6,409.0 L1503.9,408.8 L1503.3,408.4 L1502.8,407.9 L1502.4,407.1 L1502.2,406.2 L1502.4,405.0 L1501.2,405.4 L1500.3,405.4 L1499.5,405.2 L1498.9,404.8 L1498.4,404.3 L1498.1,403.6 L1498.0,402.9 L1498.1,402.1 L1498.4,401.2 L1499.3,400.3 L1498.0,400.0 L1497.3,399.5 L1496.7,398.9 L1496.4,398.2 L1496.3,397.4 L1496.4,396.7 L1496.7,396.0 L1497.3,395.4 L1498.1,394.9 L1499.3,394.6 L1498.5,393.7 L1498.1,392.8 L1498.0,392.0 L1498.1,391.3 L1498.4,390.6 L1498.9,390.1 L1499.6,389.7 L1500.4,389.5 L1501.3,389.5 Z" fill="#8ed46c" stroke="#3d8a2c" stroke-width="1" stroke-linejoin="round"/><path d="M1508.5,397.5 Q1526,390 1530.5,370" fill="none" stroke="#3d8a2c" stroke-width="16.2" stroke-linecap="round"/><path d="M1508.5,397.5 Q1526,390 1530.5,370" fill="none" stroke="#a7e97b" stroke-width="13.6" stroke-linecap="round"/>
<path d="M1556.5,387.6 L1557.3,386.6 L1558.0,386.1 L1558.7,385.8 L1559.3,385.7 L1559.8,385.7 L1560.4,385.9 L1560.9,386.3 L1561.3,386.9 L1561.7,387.7 L1561.9,388.9 L1562.8,388.0 L1563.5,387.5 L1564.2,387.2 L1564.8,387.2 L1565.4,387.2 L1565.9,387.5 L1566.3,387.9 L1566.7,388.5 L1567.0,389.3 L1567.2,390.6 L1568.1,389.7 L1568.9,389.3 L1569.6,389.1 L1570.2,389.1 L1570.8,389.2 L1571.3,389.5 L1571.7,390.0 L1572.0,390.6 L1572.3,391.5 L1572.3,392.7 L1573.3,391.9 L1574.1,391.6 L1574.8,391.5 L1575.5,391.5 L1576.0,391.7 L1576.5,392.0 L1576.9,392.5 L1577.1,393.2 L1577.3,394.1 L1577.2,395.3 L1578.3,394.6 L1579.1,394.4 L1579.8,394.3 L1580.5,394.4 L1581.0,394.7 L1581.4,395.1 L1581.7,395.6 L1582.0,396.3 L1582.0,397.2 L1581.8,398.4 L1582.9,397.9 L1583.8,397.7 L1584.5,397.8 L1585.1,397.9 L1585.6,398.2 L1586.0,398.7 L1586.3,399.3 L1586.4,400.0 L1586.3,400.9 L1585.9,402.1 L1587.1,401.7 L1588.0,401.7 L1588.7,401.8 L1589.3,402.0 L1589.8,402.4 L1590.1,402.9 L1590.3,403.5 L1590.3,404.3 L1590.1,405.1 L1589.6,406.3 L1590.8,406.0 L1591.7,406.1 L1592.4,406.3 L1592.9,406.7 L1593.3,407.1 L1593.6,407.7 L1593.7,408.3 L1593.6,409.0 L1593.3,409.9 L1592.6,410.9 L1593.9,410.9 L1594.7,411.1 L1595.4,411.4 L1595.9,411.8 L1596.2,412.3 L1596.4,412.8 L1596.4,413.5 L1596.2,414.2 L1595.8,415.0 L1595.0,415.9 L1596.2,416.0 L1597.0,416.4 L1597.6,416.7 L1598.1,417.2 L1598.4,417.7 L1598.4,418.3 L1598.3,419.0 L1598.1,419.6 L1597.6,420.4 L1596.6,421.2 L1597.9,421.5 L1598.6,421.9 L1599.2,422.4 L1599.6,422.9 L1599.8,423.4 L1599.8,424.0 L1599.6,424.6 L1599.3,425.3 L1598.7,425.9 L1597.6,426.6 L1598.9,427.1 L1599.6,427.5 L1600.1,428.1 L1600.4,428.6 L1600.5,429.2 L1600.5,429.8 L1600.2,430.4 L1599.8,431.0 L1599.2,431.6 L1598.1,432.2 L1599.2,432.7 L1599.9,433.3 L1600.3,434.0 L1600.5,434.7 L1600.5,435.4 L1600.2,436.1 L1599.7,436.7 L1599.1,437.2 L1598.2,437.5 L1597.0,437.5 L1597.7,438.6 L1597.9,439.5 L1597.8,440.3 L1597.6,441.0 L1597.2,441.6 L1596.6,442.0 L1595.9,442.3 L1595.1,442.3 L1594.2,442.1 L1593.1,441.4 L1593.1,442.7 L1592.8,443.6 L1592.3,444.2 L1591.7,444.7 L1591.1,444.9 L1590.3,445.0 L1589.6,444.8 L1588.9,444.4 L1588.3,443.7 L1587.8,442.6 L1587.0,443.6 L1586.3,444.2 L1585.6,444.5 L1584.8,444.5 L1584.1,444.4 L1583.5,444.0 L1583.0,443.5 L1582.6,442.8 L1582.4,441.9 L1582.6,440.6 L1581.5,441.1 L1580.5,441.2 L1579.8,441.0 L1579.1,440.6 L1578.6,440.1 L1578.3,439.5 L1578.2,438.8 L1578.2,438.0 L1578.6,437.1 L1579.4,436.2 L1578.2,435.9 L1577.4,435.5 L1576.8,434.9 L1576.5,434.2 L1576.3,433.6 L1576.4,433.0 L1576.6,432.4 L1577.1,431.9 L1577.7,431.3 L1578.8,430.7 L1577.6,430.2 L1576.9,429.8 L1576.4,429.3 L1576.0,428.8 L1575.9,428.4 L1575.9,427.8 L1576.0,427.3 L1576.4,426.7 L1576.9,426.0 L1577.8,425.2 L1576.6,425.0 L1575.8,424.7 L1575.2,424.4 L1574.8,424.0 L1574.5,423.6 L1574.4,423.1 L1574.5,422.5 L1574.7,421.9 L1575.0,421.1 L1575.7,420.1 L1574.5,420.2 L1573.7,420.1 L1573.0,420.0 L1572.5,419.7 L1572.1,419.4 L1571.9,418.9 L1571.8,418.4 L1571.8,417.7 L1571.9,416.9 L1572.4,415.7 L1571.2,416.1 L1570.4,416.3 L1569.7,416.3 L1569.2,416.1 L1568.7,415.9 L1568.4,415.5 L1568.1,415.0 L1568.0,414.3 L1567.9,413.5 L1568.1,412.3 L1567.0,412.9 L1566.2,413.2 L1565.5,413.3 L1565.0,413.3 L1564.5,413.2 L1564.1,412.9 L1563.7,412.4 L1563.4,411.7 L1563.2,410.9 L1563.2,409.7 L1562.2,410.5 L1561.5,410.9 L1560.8,411.1 L1560.2,411.2 L1559.7,411.1 L1559.3,410.8 L1558.8,410.4 L1558.5,409.8 L1558.2,409.0 L1558.0,407.8 L1557.1,408.7 L1556.4,409.2 L1555.8,409.5 L1555.2,409.6 L1554.7,409.6 L1554.2,409.3 L1553.7,409.0 L1553.3,408.4 L1552.9,407.6 L1552.6,406.4 L1551.8,407.4 L1551.0,407.8 L1550.2,408.0 L1549.4,408.0 L1548.8,407.8 L1548.2,407.4 L1547.8,406.7 L1547.5,406.0 L1547.4,405.1 L1547.8,403.8 L1546.5,404.2 L1545.6,404.1 L1544.9,403.9 L1544.3,403.5 L1543.8,402.9 L1543.6,402.2 L1543.5,401.5 L1543.7,400.7 L1544.2,399.9 L1545.1,399.0 L1543.9,398.7 L1543.2,398.1 L1542.7,397.5 L1542.4,396.8 L1542.3,396.1 L1542.5,395.4 L1542.9,394.8 L1543.5,394.2 L1544.3,393.8 L1545.5,393.6 L1544.7,392.6 L1544.4,391.7 L1544.3,390.9 L1544.5,390.2 L1544.8,389.6 L1545.3,389.1 L1546.0,388.8 L1546.8,388.6 L1547.7,388.7 L1548.9,389.2 L1548.7,388.0 L1548.9,387.1 L1549.3,386.4 L1549.8,385.8 L1550.5,385.5 L1551.1,385.4 L1551.9,385.5 L1552.6,385.8 L1553.4,386.3 Z" fill="#8ed46c" stroke="#3d8a2c" stroke-width="1" stroke-linejoin="round"/><path d="M1554.5,397 Q1588,404 1588.5,433" fill="none" stroke="#3d8a2c" stroke-width="16.2" stroke-linecap="round"/><path d="M1554.5,397 Q1588,404 1588.5,433" fill="none" stroke="#a7e97b" stroke-width="13.6" stroke-linecap="round"/>
<path d="M1539.1,425.4 L1540.2,426.0 L1540.8,426.5 L1541.3,427.1 L1541.5,427.6 L1541.6,428.2 L1541.5,428.7 L1541.3,429.3 L1540.8,429.8 L1540.2,430.4 L1539.1,431.0 L1540.2,431.5 L1540.9,432.0 L1541.4,432.5 L1541.7,433.0 L1541.8,433.5 L1541.8,434.0 L1541.6,434.6 L1541.2,435.2 L1540.6,435.8 L1539.6,436.5 L1540.8,436.9 L1541.5,437.3 L1542.0,437.7 L1542.4,438.2 L1542.6,438.7 L1542.6,439.2 L1542.5,439.8 L1542.2,440.4 L1541.7,441.1 L1540.8,442.0 L1542.0,442.1 L1542.8,442.4 L1543.4,442.8 L1543.8,443.2 L1544.1,443.6 L1544.2,444.1 L1544.2,444.7 L1544.0,445.3 L1543.6,446.1 L1542.9,447.1 L1544.1,447.0 L1545.0,447.1 L1545.6,447.3 L1546.1,447.6 L1546.5,447.9 L1546.7,448.4 L1546.8,448.9 L1546.8,449.6 L1546.6,450.4 L1546.1,451.6 L1547.3,451.2 L1548.2,451.1 L1548.8,451.1 L1549.4,451.3 L1549.8,451.5 L1550.2,451.9 L1550.4,452.4 L1550.5,453.1 L1550.6,453.9 L1550.4,455.2 L1551.5,454.5 L1552.3,454.2 L1553.0,454.0 L1553.5,454.0 L1554.0,454.2 L1554.4,454.5 L1554.8,455.0 L1555.1,455.6 L1555.3,456.4 L1555.4,457.7 L1556.3,456.8 L1557.1,456.4 L1557.9,456.2 L1558.6,456.3 L1559.3,456.6 L1559.9,457.0 L1560.3,457.6 L1560.5,458.4 L1560.5,459.3 L1560.1,460.6 L1561.4,460.3 L1562.3,460.4 L1563.0,460.7 L1563.6,461.2 L1564.0,461.8 L1564.2,462.4 L1564.2,463.2 L1564.0,464.0 L1563.5,464.8 L1562.5,465.5 L1563.7,466.0 L1564.4,466.6 L1564.8,467.3 L1565.1,468.0 L1565.1,468.7 L1564.9,469.4 L1564.5,470.0 L1563.8,470.5 L1563.0,470.9 L1561.7,471.0 L1562.5,472.0 L1562.7,472.9 L1562.7,473.7 L1562.5,474.5 L1562.2,475.1 L1561.6,475.5 L1560.9,475.8 L1560.1,475.9 L1559.2,475.8 L1558.1,475.1 L1558.1,476.4 L1557.9,477.3 L1557.4,478.0 L1556.9,478.5 L1556.2,478.8 L1555.5,478.8 L1554.8,478.7 L1554.0,478.3 L1553.4,477.7 L1552.8,476.6 L1552.1,477.7 L1551.4,478.3 L1550.6,478.6 L1549.9,478.7 L1549.2,478.6 L1548.6,478.3 L1548.2,477.8 L1547.8,477.2 L1547.5,476.4 L1547.4,475.1 L1546.4,476.0 L1545.7,476.3 L1544.9,476.5 L1544.3,476.5 L1543.7,476.3 L1543.2,476.0 L1542.8,475.5 L1542.5,474.8 L1542.3,474.0 L1542.4,472.7 L1541.3,473.4 L1540.5,473.7 L1539.8,473.8 L1539.1,473.7 L1538.6,473.5 L1538.1,473.1 L1537.8,472.5 L1537.6,471.8 L1537.5,470.9 L1537.7,469.7 L1536.6,470.3 L1535.7,470.4 L1535.0,470.4 L1534.3,470.2 L1533.8,469.9 L1533.4,469.5 L1533.2,468.9 L1533.0,468.2 L1533.1,467.3 L1533.4,466.1 L1532.2,466.5 L1531.4,466.5 L1530.6,466.4 L1530.0,466.2 L1529.6,465.8 L1529.2,465.3 L1529.1,464.7 L1529.0,463.9 L1529.2,463.1 L1529.7,461.9 L1528.5,462.2 L1527.6,462.1 L1526.9,461.9 L1526.3,461.6 L1525.9,461.1 L1525.7,460.6 L1525.6,459.9 L1525.6,459.2 L1525.9,458.4 L1526.6,457.3 L1525.3,457.4 L1524.5,457.2 L1523.8,456.9 L1523.3,456.5 L1522.9,456.0 L1522.8,455.4 L1522.8,454.8 L1522.9,454.1 L1523.3,453.3 L1524.1,452.3 L1522.8,452.2 L1522.0,451.9 L1521.4,451.6 L1520.9,451.1 L1520.7,450.6 L1520.5,450.0 L1520.6,449.4 L1520.9,448.7 L1521.3,447.9 L1522.2,447.1 L1521.0,446.8 L1520.2,446.5 L1519.6,446.0 L1519.2,445.5 L1519.0,445.0 L1519.0,444.4 L1519.1,443.7 L1519.4,443.1 L1519.9,442.4 L1520.9,441.6 L1519.7,441.3 L1519.0,440.8 L1518.4,440.3 L1518.1,439.8 L1517.9,439.2 L1517.9,438.7 L1518.1,438.0 L1518.5,437.4 L1519.1,436.8 L1520.2,436.1 L1519.0,435.7 L1518.3,435.1 L1517.8,434.6 L1517.5,434.0 L1517.4,433.5 L1517.4,432.9 L1517.7,432.3 L1518.1,431.7 L1518.7,431.1 L1519.8,430.5 L1518.7,430.0 L1518.0,429.4 L1517.6,428.9 L1517.3,428.3 L1517.2,427.7 L1517.3,427.1 L1517.6,426.6 L1518.1,426.0 L1518.7,425.5 L1519.9,425.0 L1518.8,424.3 L1518.2,423.6 L1517.8,422.9 L1517.7,422.2 L1517.8,421.4 L1518.1,420.8 L1518.6,420.3 L1519.3,419.8 L1520.2,419.6 L1521.5,419.7 L1520.9,418.5 L1520.8,417.6 L1520.9,416.8 L1521.2,416.1 L1521.7,415.6 L1522.3,415.2 L1523.1,415.1 L1523.9,415.1 L1524.7,415.4 L1525.8,416.2 L1525.9,414.9 L1526.3,414.1 L1526.8,413.5 L1527.5,413.1 L1528.2,412.9 L1528.9,412.9 L1529.6,413.2 L1530.2,413.6 L1530.8,414.3 L1531.2,415.6 L1532.1,414.6 L1532.9,414.1 L1533.6,413.9 L1534.4,413.9 L1535.1,414.1 L1535.6,414.6 L1536.1,415.2 L1536.4,415.9 L1536.5,416.8 L1536.2,418.1 L1537.4,417.7 L1538.3,417.8 L1539.1,418.0 L1539.7,418.4 L1540.1,419.0 L1540.4,419.7 L1540.4,420.4 L1540.2,421.2 L1539.8,422.0 Z" fill="#8ed46c" stroke="#3d8a2c" stroke-width="1" stroke-linejoin="round"/><path d="M1529.5,425 Q1528,458 1553,467" fill="none" stroke="#3d8a2c" stroke-width="16.2" stroke-linecap="round"/><path d="M1529.5,425 Q1528,458 1553,467" fill="none" stroke="#a7e97b" stroke-width="13.6" stroke-linecap="round"/>
<g transform="translate(1501.8,423.2) rotate(42)"><rect x="-8.5" y="-2.6" width="17" height="5.2" rx="2.6" fill="#8ed46c" stroke="#3d8a2c" stroke-width="0.9"/><path d="M-5.5,0 H5.5" stroke="#4f9a3a" stroke-width="1.3" stroke-linecap="round"/></g>
<g transform="translate(1574,452.6) rotate(52)"><rect x="-8.5" y="-2.6" width="17" height="5.2" rx="2.6" fill="#8ed46c" stroke="#3d8a2c" stroke-width="0.9"/><path d="M-5.5,0 H5.5" stroke="#4f9a3a" stroke-width="1.3" stroke-linecap="round"/></g>
<circle cx="1693.2" cy="428.9" r="36" fill="#dd5833"/><g fill="#dd5833" stroke="#1a0a05" stroke-width="1"><circle cx="1665.6" cy="454.5" r="12.4"/><circle cx="1725.6" cy="445.7" r="12.4"/><circle cx="1660.0" cy="421.7" r="12.4"/><circle cx="1729.3" cy="427.7" r="12.4"/><circle cx="1710.8" cy="458.0" r="12.4"/><circle cx="1684.7" cy="392.5" r="12.4"/><circle cx="1697.8" cy="463.8" r="12.4"/><circle cx="1728.1" cy="413.8" r="12.4"/><circle cx="1675.5" cy="461.9" r="12.4"/><circle cx="1701.7" cy="395.8" r="12.4"/><circle cx="1657.7" cy="438.7" r="12.4"/><circle cx="1716.1" cy="398.3" r="12.4"/><circle cx="1667.5" cy="401.5" r="12.4"/><circle cx="1718.1" cy="423.5" r="12.4"/><circle cx="1688.3" cy="444.4" r="12.4"/><circle cx="1698.4" cy="437.8" r="12.4"/><circle cx="1706.8" cy="434.8" r="12.4"/><circle cx="1691.9" cy="428.0" r="12.4"/><circle cx="1686.3" cy="414.8" r="12.4"/><circle cx="1684.2" cy="451.6" r="12.4"/><circle cx="1678.1" cy="430.8" r="12.4"/><circle cx="1670.7" cy="431.6" r="12.4"/><circle cx="1718.2" cy="438.2" r="12.4"/><circle cx="1716.3" cy="432.2" r="12.4"/><circle cx="1695.2" cy="425.9" r="12.4"/><circle cx="1697.0" cy="413.0" r="12.4"/><circle cx="1690.9" cy="427.7" r="12.4"/><circle cx="1704.2" cy="432.2" r="12.4"/><circle cx="1704.7" cy="425.5" r="12.4"/></g>
<circle cx="1987.5" cy="423.5" r="36" fill="#dd5833"/><g fill="#dd5833" stroke="#1a0a05" stroke-width="1"><circle cx="2020.0" cy="408.6" r="12.4"/><circle cx="2016.6" cy="441.6" r="12.4"/><circle cx="1960.7" cy="451.2" r="12.4"/><circle cx="1976.6" cy="390.9" r="12.4"/><circle cx="2005.7" cy="392.6" r="12.4"/><circle cx="1952.2" cy="416.1" r="12.4"/><circle cx="2007.8" cy="452.8" r="12.4"/><circle cx="1988.9" cy="389.4" r="12.4"/><circle cx="1974.8" cy="455.5" r="12.4"/><circle cx="1952.6" cy="435.3" r="12.4"/><circle cx="1960.8" cy="401.1" r="12.4"/><circle cx="1989.4" cy="458.0" r="12.4"/><circle cx="2022.5" cy="419.9" r="12.4"/><circle cx="1982.4" cy="422.2" r="12.4"/><circle cx="1984.4" cy="413.6" r="12.4"/><circle cx="1999.1" cy="409.4" r="12.4"/><circle cx="1971.9" cy="414.4" r="12.4"/><circle cx="1964.1" cy="414.7" r="12.4"/><circle cx="1977.9" cy="428.3" r="12.4"/><circle cx="1971.6" cy="411.8" r="12.4"/><circle cx="1981.2" cy="438.4" r="12.4"/><circle cx="1975.7" cy="408.6" r="12.4"/><circle cx="1976.8" cy="413.0" r="12.4"/><circle cx="1978.6" cy="434.8" r="12.4"/><circle cx="1974.1" cy="403.3" r="12.4"/><circle cx="2003.5" cy="403.2" r="12.4"/><circle cx="1972.3" cy="419.1" r="12.4"/><circle cx="1999.8" cy="415.4" r="12.4"/><circle cx="1988.4" cy="428.4" r="12.4"/></g>
<g stroke="#000" stroke-width="1.3"><ellipse cx="2132" cy="405" rx="9" ry="17" fill="#8c8c8c" transform="rotate(-20 2132 405)"/><ellipse cx="2124" cy="428" rx="10" ry="16" fill="#e4e4e4" transform="rotate(-15 2124 428)"/><ellipse cx="2128" cy="444" rx="9" ry="11" fill="#8c8c8c"/><ellipse cx="2096.2" cy="433.8" rx="26" ry="21.5" fill="#8c8c8c" transform="rotate(22 2096.2 433.8)"/><ellipse cx="2122.6" cy="467.2" rx="23.7" ry="15.6" fill="#8c8c8c" transform="rotate(30 2122.6 467.2)"/><ellipse cx="2103.8" cy="396.9" rx="26.5" ry="14.2" fill="#6c6c6c" transform="rotate(-17 2103.8 396.9)"/></g>
<g fill="#000" transform="rotate(-21 2103.8 400)"><rect x="2085.5" y="397.2" width="7.2" height="6.4" rx="3"/><rect x="2093.1" y="397.2" width="7.2" height="6.4" rx="3"/><rect x="2100.7" y="397.2" width="7.2" height="6.4" rx="3"/><rect x="2108.3" y="397.2" width="7.2" height="6.4" rx="3"/><rect x="2115.9" y="397.2" width="7.2" height="6.4" rx="3"/></g>
<path d="M2176.0,410.0 L2164.0,421.1 L2178.7,428.1 L2163.4,431.3 L2175.6,447.1 L2158.2,438.8 L2162.7,456.6 L2152.8,446.5 L2150.5,464.7 L2144.8,445.7 L2134.8,469.3 L2137.4,443.3 L2121.7,457.2 L2131.9,436.3 L2114.4,439.3 L2130.1,426.7 L2112.5,419.6 L2128.9,416.3 L2118.0,401.4 L2133.5,407.5 L2127.8,386.4 L2140.9,404.1 L2142.1,378.8 L2148.3,401.0 L2156.6,384.7 L2154.9,406.0 L2171.5,390.6 L2161.1,411.7 Z" fill="#000"/>
<g fill="none" stroke="#222" stroke-width="0.9"><path d="M2128.5,386 C2132,378 2136,380 2138,374 C2140,368 2146,370 2148,364 C2150,358 2156,354 2163,351"/><path d="M2130,387 C2138,382 2134,376 2142,372 C2148,368 2146,362 2152,360 C2156,358 2158,362 2159,358"/><path d="M2141.4,481 C2146,486 2142,490 2147,493 C2152,496 2152,500 2151.5,504.5" stroke="#000" stroke-width="1.1"/></g>
<rect x="68" y="208.5" width="384" height="609.5" fill="none" stroke="#000" stroke-width="3" stroke-dasharray="9.6 8.2"/>
<rect x="1096" y="97" width="1476" height="652" fill="none" stroke="#000" stroke-width="2.6" stroke-dasharray="9.6 8.2"/>
<path d="M784.7,798.1 C780.8,801.8 766.8,812.8 761.4,820.2 C756.0,827.6 752.3,834.8 752.1,842.7 C751.9,850.6 757.3,858.2 760.1,867.8 C762.9,877.4 766.2,889.9 768.9,900.4 C771.6,910.9 773.3,921.3 776.4,930.5 C779.5,939.7 785.3,947.7 787.7,955.6 C790.1,963.5 791.6,969.3 791,978.1 C790.4,986.9 786.4,998.2 783.9,1008.2 C781.4,1018.2 777.8,1027.8 775.7,1038.3 C773.6,1048.8 771.7,1060.5 771.4,1070.9 C771.1,1081.4 772.2,1094.2 773.9,1101 C775.6,1107.8 776.6,1105.9 781.4,1112 C786.2,1118.1 794.1,1130.0 802.7,1137.6 C811.3,1145.2 825.1,1150.1 832.8,1157.6 C840.5,1165.1 845.8,1173.1 849.1,1182.7 C852.5,1192.3 850.2,1204.0 852.9,1215.3 C855.6,1226.6 859.1,1240.2 865.4,1250.4 C871.7,1260.6 881.3,1269.0 890.5,1276.7 C899.7,1284.4 911.4,1290.7 920.6,1296.8 C929.8,1302.9 939.0,1306.6 945.7,1313.1 C952.4,1319.6 956.5,1326.9 960.7,1335.7 C964.9,1344.5 966.9,1355.3 970.7,1365.8 C974.5,1376.2 979.9,1387.1 983.3,1398.4 C986.6,1409.7 990.8,1421.2 990.8,1433.5 C990.8,1445.8 984.5,1465.6 983.3,1472 L1172.5,1472 C1167.3,1466.4 1150.3,1448.3 1141.3,1438.5 C1132.3,1428.7 1122.5,1417.6 1118.7,1413.4 L1109.9,1414.7 C1106.8,1412.4 1099.7,1407.4 1091.1,1400.9 C1082.5,1394.4 1068.1,1384.6 1058.5,1375.8 C1048.9,1367.0 1038.8,1357.0 1033.4,1348.2 C1028.1,1339.4 1026.8,1331.9 1026.4,1323.1 C1026.0,1314.3 1031.8,1304.4 1030.9,1295.6 C1030.0,1286.8 1024.7,1278.0 1020.9,1270.5 C1017.1,1263.0 1014.2,1256.7 1008.4,1250.4 C1002.5,1244.1 994.2,1237.3 985.8,1232.9 C977.4,1228.5 966.6,1227.9 958.2,1224.1 C949.8,1220.3 941.5,1217.6 935.6,1210.3 C929.8,1203.0 926.4,1191.5 923.1,1180.2 C919.8,1168.9 919.4,1155.0 915.6,1142.6 C911.8,1130.2 905.3,1115.9 900.5,1106 C895.7,1096.1 891.0,1091.3 886.8,1083.4 C882.6,1075.5 877.9,1066.3 875.5,1058.4 C873.1,1050.5 872.2,1043.8 872.5,1035.8 C872.8,1027.8 876.2,1019.5 877.5,1010.7 C878.8,1001.9 880.8,994.0 880.5,983.1 C880.2,972.2 877.6,956.8 875.5,945.5 C873.4,934.2 871.1,925.0 868,915.4 C864.9,905.8 859.4,896.2 856.7,887.9 C854.0,879.5 851.8,872.4 851.6,865.3 C851.4,858.2 852.7,851.9 855.4,845.2 C858.1,838.5 865.0,831.5 868,825.2 C871.0,818.9 874.2,813.1 873.5,807.6 C872.8,802.1 865.3,794.7 863.7,792.1 Q825,789 784.7,798.1 Z" fill="#6d3e1a"/>
<g clip-path="url(#chclip)"><path d="M784.7,798.1 C780.8,801.8 766.8,812.8 761.4,820.2 C756.0,827.6 752.3,834.8 752.1,842.7 C751.9,850.6 757.3,858.2 760.1,867.8 C762.9,877.4 766.2,889.9 768.9,900.4 C771.6,910.9 773.3,921.3 776.4,930.5 C779.5,939.7 785.3,947.7 787.7,955.6 C790.1,963.5 791.6,969.3 791,978.1 C790.4,986.9 786.4,998.2 783.9,1008.2 C781.4,1018.2 777.8,1027.8 775.7,1038.3 C773.6,1048.8 771.7,1060.5 771.4,1070.9 C771.1,1081.4 772.2,1094.2 773.9,1101 C775.6,1107.8 776.6,1105.9 781.4,1112 C786.2,1118.1 794.1,1130.0 802.7,1137.6 C811.3,1145.2 825.1,1150.1 832.8,1157.6 C840.5,1165.1 845.8,1173.1 849.1,1182.7 C852.5,1192.3 850.2,1204.0 852.9,1215.3 C855.6,1226.6 859.1,1240.2 865.4,1250.4 C871.7,1260.6 881.3,1269.0 890.5,1276.7 C899.7,1284.4 911.4,1290.7 920.6,1296.8 C929.8,1302.9 939.0,1306.6 945.7,1313.1 C952.4,1319.6 956.5,1326.9 960.7,1335.7 C964.9,1344.5 966.9,1355.3 970.7,1365.8 C974.5,1376.2 979.9,1387.1 983.3,1398.4 C986.6,1409.7 990.8,1421.2 990.8,1433.5 C990.8,1445.8 984.5,1465.6 983.3,1472" fill="none" stroke="#2a1405" stroke-width="14" opacity="0.55" filter="url(#blur3)" transform="translate(3,0)"/></g>
<path d="M784.7,798.1 C780.8,801.8 766.8,812.8 761.4,820.2 C756.0,827.6 752.3,834.8 752.1,842.7 C751.9,850.6 757.3,858.2 760.1,867.8 C762.9,877.4 766.2,889.9 768.9,900.4 C771.6,910.9 773.3,921.3 776.4,930.5 C779.5,939.7 785.3,947.7 787.7,955.6 C790.1,963.5 791.6,969.3 791,978.1 C790.4,986.9 786.4,998.2 783.9,1008.2 C781.4,1018.2 777.8,1027.8 775.7,1038.3 C773.6,1048.8 771.7,1060.5 771.4,1070.9 C771.1,1081.4 772.2,1094.2 773.9,1101 C775.6,1107.8 776.6,1105.9 781.4,1112 C786.2,1118.1 794.1,1130.0 802.7,1137.6 C811.3,1145.2 825.1,1150.1 832.8,1157.6 C840.5,1165.1 845.8,1173.1 849.1,1182.7 C852.5,1192.3 850.2,1204.0 852.9,1215.3 C855.6,1226.6 859.1,1240.2 865.4,1250.4 C871.7,1260.6 881.3,1269.0 890.5,1276.7 C899.7,1284.4 911.4,1290.7 920.6,1296.8 C929.8,1302.9 939.0,1306.6 945.7,1313.1 C952.4,1319.6 956.5,1326.9 960.7,1335.7 C964.9,1344.5 966.9,1355.3 970.7,1365.8 C974.5,1376.2 979.9,1387.1 983.3,1398.4 C986.6,1409.7 990.8,1421.2 990.8,1433.5 C990.8,1445.8 984.5,1465.6 983.3,1472" fill="none" stroke="#000" stroke-width="2.6"/>
<path d="M863.7,792.1 C865.3,794.7 872.8,802.1 873.5,807.6 C874.2,813.1 871.0,818.9 868,825.2 C865.0,831.5 858.1,838.5 855.4,845.2 C852.7,851.9 851.4,858.2 851.6,865.3 C851.8,872.4 854.0,879.5 856.7,887.9 C859.4,896.2 864.9,905.8 868,915.4 C871.1,925.0 873.4,934.2 875.5,945.5 C877.6,956.8 880.2,972.2 880.5,983.1 C880.8,994.0 878.8,1001.9 877.5,1010.7 C876.2,1019.5 872.8,1027.8 872.5,1035.8 C872.2,1043.8 873.1,1050.5 875.5,1058.4 C877.9,1066.3 882.6,1075.5 886.8,1083.4 C891.0,1091.3 895.7,1096.1 900.5,1106 C905.3,1115.9 911.8,1130.2 915.6,1142.6 C919.4,1155.0 919.8,1168.9 923.1,1180.2 C926.4,1191.5 929.8,1203.0 935.6,1210.3 C941.5,1217.6 949.8,1220.3 958.2,1224.1 C966.6,1227.9 977.4,1228.5 985.8,1232.9 C994.2,1237.3 1002.5,1244.1 1008.4,1250.4 C1014.2,1256.7 1017.1,1263.0 1020.9,1270.5 C1024.7,1278.0 1030.0,1286.8 1030.9,1295.6 C1031.8,1304.4 1026.0,1314.3 1026.4,1323.1 C1026.8,1331.9 1028.1,1339.4 1033.4,1348.2 C1038.8,1357.0 1048.9,1367.0 1058.5,1375.8 C1068.1,1384.6 1082.5,1394.4 1091.1,1400.9 C1099.7,1407.4 1106.8,1412.4 1109.9,1414.7 L1118.7,1413.4 C1122.5,1417.6 1132.3,1428.7 1141.3,1438.5 C1150.3,1448.3 1167.3,1466.4 1172.5,1472" fill="none" stroke="#000" stroke-width="2.6" stroke-linejoin="round"/>
<rect x="401.2" y="942.8" width="916.3" height="329" fill="#ffffff" opacity="0.2"/>
<path d="M401.2,1271.8 H1317.5 V942.8 H401.2 Z" fill="none" stroke="#fff" stroke-width="8.6" stroke-dasharray="33.5 25.13"/>
<path filter="url(#shL)" fill="#9dc3e6" d="M449.5,899 H480.3 V1062 Q480.3,1083.5 502,1083.5 H537.8 V1071.9 L571.6,1099.5 L537.8,1127.6 V1115.1 H498 Q482,1115.1 475.4,1107 V1304.5 H488.1 L462.5,1329.7 L436.8,1304.5 H449.5 Z"/>
<path filter="url(#shL)" fill="#f2f2f2" d="M562.8,844.8 H578 V862 Q578,882.4 599,882.4 H640 V872 L656.8,884.3 L640,896.5 V890.3 H596 Q584,890.3 578,884 V906.4 H591 L570,930 L549.2,906.4 H562.8 Z"/>
<g filter="url(#shR)"><path fill="#d2d2d2" d="M1248.5,829 L1276.3,856.8 H1262.8 V1360 H1218.2 V1262 Q1218.2,1232.6 1186,1232.6 H1098.7 V1248 L1043.9,1212.1 L1098.7,1175.6 V1191.2 H1190 Q1222,1191.2 1234,1210 V946 Q1232,915.9 1198,915.9 H1172.7 V921.4 L1153.8,909.6 L1172.7,896.9 V903 H1200 Q1224,903 1234,914 V856.8 H1220.6 Z"/><ellipse cx="1253.7" cy="1398.5" rx="104.5" ry="47" fill="#d2d2d2"/></g>
<use href="#tw" transform="translate(90,920)"/>
<use href="#tw" transform="translate(919.2,635) scale(1.04,1.176)"/>
<use href="#tw" transform="translate(866.7,622.5) scale(1.04,1.176)"/>
<g transform="translate(667,812.6) rotate(-41.4)" filter="url(#blur06)"><path d="M-13.8,0 A13.8,13.8 0 0 1 13.8,0 C15.5,28.3 6.9,53.0 2.2,60.2 Q0,62.5 -2.2,60.2 C-6.9,53.0 -15.5,28.3 -13.8,0 Z" fill="url(#mus)" stroke="#d09a44" stroke-width="1.2" stroke-opacity="0.6"/><path d="M-13.8,0 A13.8,13.8 0 0 1 13.8,0 C15.5,28.3 6.9,53.0 2.2,60.2 Q0,62.5 -2.2,60.2 C-6.9,53.0 -15.5,28.3 -13.8,0 Z" fill="url(#musd)"/><ellipse cx="1.9" cy="32.0" rx="1.7" ry="16.6" fill="#f6d2b6" opacity="0.85" filter="url(#blur06)"/></g>
<g transform="translate(719.6,823.9) rotate(17.7)" filter="url(#blur06)"><path d="M-9.6,0 A9.6,9.6 0 0 1 9.6,0 C10.8,16.2 4.8,30.3 1.5,34.3 Q0,35.9 -1.5,34.3 C-4.8,30.3 -10.8,16.2 -9.6,0 Z" fill="url(#mus)" stroke="#d09a44" stroke-width="1.2" stroke-opacity="0.6"/><path d="M-9.6,0 A9.6,9.6 0 0 1 9.6,0 C10.8,16.2 4.8,30.3 1.5,34.3 Q0,35.9 -1.5,34.3 C-4.8,30.3 -10.8,16.2 -9.6,0 Z" fill="url(#musd)"/><ellipse cx="1.3" cy="18.3" rx="1.2" ry="9.5" fill="#f6d2b6" opacity="0.85" filter="url(#blur06)"/></g>
<g transform="translate(2152,1078.4) rotate(26.4)" filter="url(#blur06)"><path d="M-15.5,0 A15.5,15.5 0 0 1 15.5,0 C17.4,33.7 7.8,63.0 2.5,71.8 Q0,74.2 -2.5,71.8 C-7.8,63.0 -17.4,33.7 -15.5,0 Z" fill="url(#mus2)" stroke="#d09a44" stroke-width="1.2" stroke-opacity="0.6"/><path d="M-15.5,0 A15.5,15.5 0 0 1 15.5,0 C17.4,33.7 7.8,63.0 2.5,71.8 Q0,74.2 -2.5,71.8 C-7.8,63.0 -17.4,33.7 -15.5,0 Z" fill="url(#musd)"/><ellipse cx="2.2" cy="38.1" rx="1.9" ry="19.8" fill="#f6d2b6" opacity="0.85" filter="url(#blur06)"/></g>
<g transform="translate(2073.4,1096.8) rotate(-34.2)" filter="url(#blur06)"><path d="M-13.4,0 A13.4,13.4 0 0 1 13.4,0 C15.0,28.7 6.7,53.7 2.1,61.2 Q0,63.3 -2.1,61.2 C-6.7,53.7 -15.0,28.7 -13.4,0 Z" fill="url(#mus2)" stroke="#d09a44" stroke-width="1.2" stroke-opacity="0.6"/><path d="M-13.4,0 A13.4,13.4 0 0 1 13.4,0 C15.0,28.7 6.7,53.7 2.1,61.2 Q0,63.3 -2.1,61.2 C-6.7,53.7 -15.0,28.7 -13.4,0 Z" fill="url(#musd)"/><ellipse cx="1.9" cy="32.5" rx="1.6" ry="16.9" fill="#f6d2b6" opacity="0.85" filter="url(#blur06)"/></g>
<g transform="translate(2099.3,1092.6) rotate(-15.9)" filter="url(#blur06)"><path d="M-13.8,0 A13.8,13.8 0 0 1 13.8,0 C15.5,27.4 6.9,51.3 2.2,58.3 Q0,60.6 -2.2,58.3 C-6.9,51.3 -15.5,27.4 -13.8,0 Z" fill="url(#mus2)" stroke="#d09a44" stroke-width="1.2" stroke-opacity="0.6"/><path d="M-13.8,0 A13.8,13.8 0 0 1 13.8,0 C15.5,27.4 6.9,51.3 2.2,58.3 Q0,60.6 -2.2,58.3 C-6.9,51.3 -15.5,27.4 -13.8,0 Z" fill="url(#musd)"/><ellipse cx="1.9" cy="31.0" rx="1.7" ry="16.1" fill="#f6d2b6" opacity="0.85" filter="url(#blur06)"/></g>
<g transform="translate(2126.9,1103.5) rotate(11.0)" filter="url(#blur06)"><path d="M-12.1,0 A12.1,12.1 0 0 1 12.1,0 C13.6,22.3 6.0,41.6 1.9,47.2 Q0,49.2 -1.9,47.2 C-6.0,41.6 -13.6,22.3 -12.1,0 Z" fill="url(#mus2)" stroke="#d09a44" stroke-width="1.2" stroke-opacity="0.6"/><path d="M-12.1,0 A12.1,12.1 0 0 1 12.1,0 C13.6,22.3 6.0,41.6 1.9,47.2 Q0,49.2 -1.9,47.2 C-6.0,41.6 -13.6,22.3 -12.1,0 Z" fill="url(#musd)"/><ellipse cx="1.7" cy="25.2" rx="1.5" ry="13.1" fill="#f6d2b6" opacity="0.85" filter="url(#blur06)"/></g>
<g transform="translate(2141.1,1122.7) rotate(31.0)" filter="url(#blur06)"><path d="M-9.6,0 A9.6,9.6 0 0 1 9.6,0 C10.8,16.0 4.8,29.9 1.5,33.8 Q0,35.4 -1.5,33.8 C-4.8,29.9 -10.8,16.0 -9.6,0 Z" fill="url(#mus2)" stroke="#d09a44" stroke-width="1.2" stroke-opacity="0.6"/><path d="M-9.6,0 A9.6,9.6 0 0 1 9.6,0 C10.8,16.0 4.8,29.9 1.5,33.8 Q0,35.4 -1.5,33.8 C-4.8,29.9 -10.8,16.0 -9.6,0 Z" fill="url(#musd)"/><ellipse cx="1.3" cy="18.1" rx="1.2" ry="9.4" fill="#f6d2b6" opacity="0.85" filter="url(#blur06)"/></g>
<path d="M1059.5,813.5 C1057.3,814.1 1053.5,815.7 1050.7,817.6 C1047.9,819.5 1044.6,822.6 1042.5,825.1 C1040.4,827.6 1038.8,830.3 1038.1,832.6 C1037.4,834.9 1037.4,837.3 1038.1,838.9 C1038.8,840.5 1041.7,840.3 1042.5,842 C1043.3,843.7 1042.6,846.8 1043.2,848.9 C1043.8,851.0 1045.0,853.5 1046.3,854.5 C1047.6,855.5 1049.8,855.8 1051.3,855.2 C1052.8,854.6 1053.2,852.6 1055.1,850.8 C1057.0,849.0 1060.5,845.0 1062.6,844.5 C1064.7,844.0 1065.9,846.6 1067.6,847.6 C1069.3,848.6 1070.5,850.2 1072.6,850.8 C1074.7,851.4 1077.8,850.4 1080.1,851.1 C1082.4,851.8 1083.8,854.1 1086.4,855.2 C1089.0,856.3 1092.7,856.8 1095.8,857.7 C1098.9,858.6 1102.1,859.3 1105.2,860.8 C1108.3,862.2 1111.7,865.3 1114.6,866.4 C1117.5,867.5 1120.2,866.1 1122.8,867.1 C1125.4,868.1 1127.5,870.8 1130.3,872.1 C1133.1,873.4 1136.6,874.5 1139.7,874.9 C1142.8,875.3 1146.5,875.3 1149.1,874.6 C1151.7,873.9 1154.1,872.3 1155.4,870.8 C1156.8,869.3 1157.3,867.5 1157.2,865.8 C1157.1,864.1 1156.1,861.9 1154.7,860.8 C1153.3,859.6 1150.7,859.4 1149.1,858.9 C1147.5,858.4 1145.8,858.5 1145.3,857.7 C1144.8,856.9 1146.9,855.4 1146,853.9 C1145.1,852.4 1142.3,850.8 1139.7,848.9 C1137.1,847.0 1133.1,844.3 1130.3,842.6 C1127.5,840.9 1125.9,839.7 1122.8,838.9 C1119.7,838.1 1114.6,838.5 1111.5,837.6 C1108.4,836.8 1106.3,835.5 1104,833.8 C1101.7,832.1 1099.8,829.0 1097.7,827.6 C1095.6,826.2 1094.1,825.5 1091.4,825.1 C1088.7,824.7 1084.1,825.5 1081.4,825.1 C1078.7,824.7 1077.2,824.0 1075.1,822.6 C1073.0,821.2 1070.8,818.3 1068.9,816.9 C1067.0,815.5 1065.5,814.7 1063.9,814.1 C1062.3,813.5 1061.7,812.9 1059.5,813.5 Z" fill="#c5e0b4" stroke="#a9d58f" stroke-width="1.8"/>
<path d="M1422.1,971.4 C1416.5,972.0 1408.9,974.2 1404.1,977.7 C1399.3,981.2 1394.8,987.7 1393.2,992.1 C1391.6,996.5 1392.4,1001.2 1394.4,1004.2 C1396.4,1007.2 1402.5,1008.0 1405.3,1010.2 C1408.1,1012.4 1409.5,1014.2 1411.3,1017.4 C1413.1,1020.6 1413.9,1026.3 1416.1,1029.4 C1418.3,1032.5 1421.1,1034.8 1424.5,1036 C1427.9,1037.2 1434.2,1037.5 1436.6,1036.6 C1439.0,1035.7 1436.8,1032.7 1439,1030.6 C1441.2,1028.5 1446.4,1024.7 1449.8,1024 C1453.2,1023.3 1455.8,1024.7 1459.4,1026.4 C1463.0,1028.1 1467.1,1032.6 1471.5,1034.2 C1475.9,1035.8 1481.1,1035.1 1485.9,1036 C1490.7,1036.9 1495.9,1038.2 1500.3,1039.7 C1504.7,1041.2 1507.4,1043.5 1512.4,1045.1 C1517.4,1046.7 1524.4,1047.7 1530.4,1049.3 C1536.4,1050.9 1542.5,1052.4 1548.5,1054.7 C1554.5,1057.0 1560.5,1060.6 1566.5,1063.1 C1572.5,1065.6 1579.6,1068.4 1584.6,1069.7 C1589.6,1071.0 1591.6,1069.4 1596.6,1070.9 C1601.6,1072.4 1608.7,1076.2 1614.7,1078.8 C1620.7,1081.4 1626.7,1084.5 1632.7,1086.6 C1638.7,1088.7 1645.8,1090.8 1650.8,1091.4 C1655.8,1092.0 1659.5,1091.7 1662.8,1090.2 C1666.1,1088.7 1669.8,1085.3 1670.6,1082.4 C1671.4,1079.5 1670.1,1075.5 1667.6,1072.8 C1665.1,1070.1 1659.6,1067.7 1655.6,1066.1 C1651.6,1064.5 1646.2,1064.6 1643.6,1063.1 C1641.0,1061.6 1642.7,1059.5 1639.9,1057.1 C1637.1,1054.7 1631.9,1051.7 1626.7,1048.7 C1621.5,1045.7 1614.6,1042.1 1608.6,1039.1 C1602.6,1036.1 1596.6,1033.0 1590.6,1030.6 C1584.6,1028.2 1578.5,1026.0 1572.5,1024.6 C1566.5,1023.2 1560.5,1023.7 1554.5,1022.2 C1548.5,1020.7 1542.4,1018.6 1536.4,1015.6 C1530.4,1012.6 1523.4,1007.1 1518.4,1004.2 C1513.4,1001.3 1510.4,999.4 1506.4,998.1 C1502.4,996.8 1499.3,996.9 1494.3,996.3 C1489.3,995.7 1481.3,995.6 1476.3,994.5 C1471.3,993.4 1468.2,991.7 1464.2,989.7 C1460.2,987.7 1456.6,985.1 1452.2,982.5 C1447.8,979.9 1442.8,976.0 1437.8,974.1 C1432.8,972.2 1427.7,970.8 1422.1,971.4 Z" fill="#c5e0b4" stroke="#a9d58f" stroke-width="2.4"/>
<g><ellipse cx="1893" cy="1124" rx="42" ry="8" fill="#e6e6e6" transform="rotate(8 1893 1124)" filter="url(#blur4)"/><path d="M1703.1,1047.4 C1704.3,1041.7 1710.3,1035.7 1715.2,1031.3 C1720.1,1026.9 1723.2,1024.2 1732.4,1021.2 C1741.7,1018.2 1759.3,1014.1 1770.7,1013.1 C1782.1,1012.1 1790.1,1013.2 1801.0,1015.1 C1811.9,1017.0 1828.7,1021.0 1836.3,1024.2 C1843.9,1027.4 1843.0,1031.1 1846.4,1034.3 C1849.8,1037.5 1850.6,1040.4 1856.5,1043.4 C1862.4,1046.4 1875.4,1049.3 1881.8,1052.5 C1888.2,1055.7 1890.2,1059.1 1894.9,1062.6 C1899.6,1066.1 1907.2,1069.7 1910.0,1073.7 C1912.8,1077.7 1910.8,1083.6 1912.0,1086.8 C1913.2,1090.0 1916.6,1089.2 1917.1,1092.9 C1917.6,1096.6 1916.8,1104.6 1915.1,1109.0 C1913.4,1113.4 1912.5,1116.6 1907.0,1119.1 C1901.5,1121.6 1892.7,1123.8 1881.8,1124.1 C1870.9,1124.4 1854.9,1122.8 1841.4,1121.1 C1827.9,1119.4 1814.5,1116.5 1801.0,1114.0 C1787.5,1111.5 1772.0,1108.8 1760.6,1106.0 C1749.2,1103.2 1739.1,1100.8 1732.4,1096.9 C1725.7,1093.0 1724.3,1088.0 1720.3,1082.8 C1716.3,1077.6 1711.1,1071.5 1708.2,1065.6 C1705.3,1059.7 1701.9,1053.1 1703.1,1047.4 Z" fill="#fff" opacity="0.35" stroke="#fff" stroke-width="4" filter="url(#blur2)"/><g filter="url(#blur08)"><path d="M1703.1,1047.4 C1704.3,1041.7 1710.3,1035.7 1715.2,1031.3 C1720.1,1026.9 1723.2,1024.2 1732.4,1021.2 C1741.7,1018.2 1759.3,1014.1 1770.7,1013.1 C1782.1,1012.1 1790.1,1013.2 1801.0,1015.1 C1811.9,1017.0 1828.7,1021.0 1836.3,1024.2 C1843.9,1027.4 1843.0,1031.1 1846.4,1034.3 C1849.8,1037.5 1850.6,1040.4 1856.5,1043.4 C1862.4,1046.4 1875.4,1049.3 1881.8,1052.5 C1888.2,1055.7 1890.2,1059.1 1894.9,1062.6 C1899.6,1066.1 1907.2,1069.7 1910.0,1073.7 C1912.8,1077.7 1910.8,1083.6 1912.0,1086.8 C1913.2,1090.0 1916.6,1089.2 1917.1,1092.9 C1917.6,1096.6 1916.8,1104.6 1915.1,1109.0 C1913.4,1113.4 1912.5,1116.6 1907.0,1119.1 C1901.5,1121.6 1892.7,1123.8 1881.8,1124.1 C1870.9,1124.4 1854.9,1122.8 1841.4,1121.1 C1827.9,1119.4 1814.5,1116.5 1801.0,1114.0 C1787.5,1111.5 1772.0,1108.8 1760.6,1106.0 C1749.2,1103.2 1739.1,1100.8 1732.4,1096.9 C1725.7,1093.0 1724.3,1088.0 1720.3,1082.8 C1716.3,1077.6 1711.1,1071.5 1708.2,1065.6 C1705.3,1059.7 1701.9,1053.1 1703.1,1047.4 Z" fill="#9b9b9b"/><path d="M1723.3,1086.8 L1760.6,1093.9 L1801.0,1102.9 L1841.4,1112.0 L1881.8,1116.1 L1912.0,1106.0 L1915.1,1109.0 L1907.0,1119.1 L1881.8,1124.1 L1841.4,1121.1 L1801.0,1114.0 L1760.6,1106.0 L1732.4,1096.9 Z" fill="#5e5e5e" /><path d="M1732.4,1021.2 L1770.7,1013.1 L1801.0,1015.1 L1836.3,1024.2 L1844.4,1033.3 L1831.3,1042.4 L1801.0,1044.4 L1770.7,1052.5 L1750.6,1048.4 L1720.3,1033.3 Z" fill="#b0b0b0" /><path d="M1750.6,1048.4 L1770.7,1052.5 L1801.0,1044.4 L1831.3,1042.4 L1844.4,1033.3 L1856.5,1043.4 L1881.8,1052.5 L1891.9,1060.6 L1876.7,1058.5 L1856.5,1066.6 L1821.2,1062.6 L1780.8,1066.6 L1760.6,1062.6 L1746.5,1054.5 Z" fill="#8b8b8b" /><path d="M1867.6,1090.8 L1909.0,1078.7 L1911.0,1086.8 L1881.8,1097.9 Z" fill="#6a6a6a" /><path d="M1746.5,1054.5 L1760.6,1062.6 L1780.8,1066.6 L1821.2,1062.6 L1856.5,1066.6 L1876.7,1058.5 L1891.9,1060.6 L1907.0,1072.7 L1867.6,1090.8 L1841.4,1087.8 L1811.1,1081.8 L1770.7,1076.7 L1755.6,1069.6 Z" fill="#a6a6a6" /><path d="M1746.5,1054.5 L1760.6,1062.6 L1780.8,1066.6 L1821.2,1062.6 L1841.4,1064.6 L1801.0,1069.6 L1770.7,1074.7 L1755.6,1069.6 Z" fill="#cdcdcd" /><path d="M1746.5,1054.5 C1748.8,1055.8 1754.9,1060.6 1760.6,1062.6 C1766.3,1064.6 1770.7,1066.6 1780.8,1066.6 C1790.9,1066.6 1808.6,1062.6 1821.2,1062.6 C1833.8,1062.6 1847.2,1067.3 1856.5,1066.6 C1865.8,1065.9 1870.8,1059.5 1876.7,1058.5 C1882.6,1057.5 1889.4,1060.2 1891.9,1060.6" fill="none" stroke="#dedede" stroke-width="2.6" stroke-linecap="round" /><path d="M1755.6,1069.6 C1758.1,1070.8 1761.5,1074.7 1770.7,1076.7 C1780.0,1078.7 1799.3,1080.0 1811.1,1081.8 C1822.9,1083.6 1833.0,1086.3 1841.4,1087.8 C1849.8,1089.3 1858.2,1090.3 1861.6,1090.8" fill="none" stroke="#d4d4d4" stroke-width="2.2" stroke-linecap="round" /><path d="M1720.3,1034.3 C1725.3,1036.7 1742.2,1045.4 1750.6,1048.4 C1759.0,1051.4 1762.3,1053.2 1770.7,1052.5 C1779.1,1051.8 1790.9,1046.1 1801.0,1044.4 C1811.1,1042.7 1824.2,1044.1 1831.3,1042.4 C1838.4,1040.7 1841.4,1035.7 1843.4,1034.3" fill="none" stroke="#bcbcbc" stroke-width="1.4" stroke-linecap="round" /></g></g>
<g><ellipse cx="2220" cy="1152" rx="36" ry="8" fill="#e8e8e8" transform="rotate(24 2220 1152)" filter="url(#blur4)"/><path d="M2207.9,1145.2 C2207.3,1140.9 2210.2,1133.2 2211.4,1128.9 C2212.6,1124.6 2213.0,1121.3 2214.9,1119.6 C2216.8,1117.8 2220.4,1120.4 2223.1,1118.4 C2225.8,1116.5 2226.3,1109.8 2231.2,1107.9 C2236.0,1106.0 2246.8,1107.5 2252.2,1106.8 C2257.6,1106.1 2258.4,1103.9 2263.8,1103.9 C2269.2,1103.9 2276.5,1105.7 2284.8,1106.8 C2293.2,1107.9 2307.5,1111.1 2313.9,1110.3 C2320.3,1109.5 2318.3,1103.5 2323.2,1102.1 C2328.0,1100.7 2333.9,1100.5 2343.0,1102.1 C2352.1,1103.6 2367.3,1107.7 2378.0,1111.4 C2388.7,1115.1 2398.4,1119.4 2407.1,1124.3 C2415.8,1129.2 2423.0,1135.4 2430.4,1140.6 C2437.8,1145.8 2446.5,1150.7 2451.3,1155.7 C2456.2,1160.7 2457.3,1165.4 2459.5,1170.8 C2461.7,1176.2 2464.6,1183.6 2464.2,1188.3 C2463.8,1193.0 2461.9,1195.9 2457.2,1198.8 C2452.5,1201.7 2443.6,1202.7 2436.2,1205.8 C2428.8,1208.9 2420.7,1215.3 2412.9,1217.4 C2405.1,1219.5 2399.3,1219.8 2389.6,1218.6 C2379.9,1217.4 2368.3,1214.1 2354.7,1210.4 C2341.1,1206.7 2321.7,1201.2 2308.1,1196.5 C2294.5,1191.8 2284.8,1187.5 2273.2,1182.5 C2261.5,1177.5 2247.9,1170.9 2238.2,1166.2 C2228.5,1161.5 2219.9,1158.0 2214.9,1154.5 C2209.9,1151.0 2208.5,1149.5 2207.9,1145.2 Z" fill="#fff" opacity="0.35" stroke="#fff" stroke-width="4" filter="url(#blur2)"/><g filter="url(#blur08)"><path d="M2207.9,1145.2 C2207.3,1140.9 2210.2,1133.2 2211.4,1128.9 C2212.6,1124.6 2213.0,1121.3 2214.9,1119.6 C2216.8,1117.8 2220.4,1120.4 2223.1,1118.4 C2225.8,1116.5 2226.3,1109.8 2231.2,1107.9 C2236.0,1106.0 2246.8,1107.5 2252.2,1106.8 C2257.6,1106.1 2258.4,1103.9 2263.8,1103.9 C2269.2,1103.9 2276.5,1105.7 2284.8,1106.8 C2293.2,1107.9 2307.5,1111.1 2313.9,1110.3 C2320.3,1109.5 2318.3,1103.5 2323.2,1102.1 C2328.0,1100.7 2333.9,1100.5 2343.0,1102.1 C2352.1,1103.6 2367.3,1107.7 2378.0,1111.4 C2388.7,1115.1 2398.4,1119.4 2407.1,1124.3 C2415.8,1129.2 2423.0,1135.4 2430.4,1140.6 C2437.8,1145.8 2446.5,1150.7 2451.3,1155.7 C2456.2,1160.7 2457.3,1165.4 2459.5,1170.8 C2461.7,1176.2 2464.6,1183.6 2464.2,1188.3 C2463.8,1193.0 2461.9,1195.9 2457.2,1198.8 C2452.5,1201.7 2443.6,1202.7 2436.2,1205.8 C2428.8,1208.9 2420.7,1215.3 2412.9,1217.4 C2405.1,1219.5 2399.3,1219.8 2389.6,1218.6 C2379.9,1217.4 2368.3,1214.1 2354.7,1210.4 C2341.1,1206.7 2321.7,1201.2 2308.1,1196.5 C2294.5,1191.8 2284.8,1187.5 2273.2,1182.5 C2261.5,1177.5 2247.9,1170.9 2238.2,1166.2 C2228.5,1161.5 2219.9,1158.0 2214.9,1154.5 C2209.9,1151.0 2208.5,1149.5 2207.9,1145.2 Z" fill="#9a9a9a"/><path d="M2209.1,1140.6 L2238.2,1156.9 L2273.2,1173.2 L2308.1,1187.1 L2354.7,1201.1 L2389.6,1208.7 L2412.9,1208.1 L2436.2,1202.3 L2436.2,1205.8 L2412.9,1217.4 L2389.6,1218.6 L2354.7,1210.4 L2308.1,1196.5 L2273.2,1182.5 L2238.2,1166.2 L2214.9,1154.5 Z" fill="#5e5e5e" /><path d="M2323.2,1102.1 L2343.0,1102.1 L2378.0,1111.4 L2407.1,1124.3 L2430.4,1140.6 L2451.3,1155.7 L2459.5,1170.8 L2447.8,1173.2 L2418.7,1168.5 L2395.4,1163.8 L2378.0,1152.2 L2360.5,1135.9 L2337.2,1124.3 L2319.7,1114.9 Z" fill="#b0b0b0" /><path d="M2263.8,1103.9 L2284.8,1106.8 L2313.9,1110.3 L2319.7,1114.9 L2337.2,1124.3 L2360.5,1135.9 L2378.0,1152.2 L2395.4,1163.8 L2418.7,1168.5 L2412.9,1173.2 L2378.0,1170.8 L2354.7,1161.5 L2331.4,1145.2 L2308.1,1134.7 L2290.6,1128.9 L2275.5,1113.8 Z" fill="#8a8a8a" /><path d="M2231.2,1107.9 L2252.2,1126.6 L2254.5,1138.2 L2245.2,1145.2 L2226.6,1126.6 L2225.4,1114.9 Z" fill="#686868" /><path d="M2275.5,1113.8 L2290.6,1128.9 L2308.1,1134.7 L2331.4,1145.2 L2354.7,1161.5 L2378.0,1170.8 L2412.9,1173.2 L2395.4,1183.6 L2378.0,1182.5 L2343.0,1172.0 L2308.1,1159.2 L2284.8,1154.5 L2261.5,1135.9 L2254.5,1128.9 Z" fill="#a6a6a6" /><path d="M2331.4,1145.2 L2354.7,1161.5 L2378.0,1170.8 L2412.9,1173.2 L2447.8,1173.2 L2412.9,1181.3 L2395.4,1183.6 L2378.0,1179.0 L2348.9,1166.2 Z" fill="#cfcfcf" /><path d="M2275.5,1113.8 C2278.0,1116.3 2285.2,1125.4 2290.6,1128.9 C2296.0,1132.4 2301.3,1132.0 2308.1,1134.7 C2314.9,1137.4 2323.6,1140.7 2331.4,1145.2 C2339.2,1149.7 2346.9,1157.2 2354.7,1161.5 C2362.5,1165.8 2368.3,1168.8 2378.0,1170.8 C2387.7,1172.8 2401.3,1172.8 2412.9,1173.2 C2424.5,1173.6 2442.0,1173.2 2447.8,1173.2" fill="none" stroke="#e0e0e0" stroke-width="2.8" stroke-linecap="round" /><path d="M2284.8,1154.5 C2288.7,1155.3 2298.4,1156.3 2308.1,1159.2 C2317.8,1162.1 2331.3,1168.1 2343.0,1172.0 C2354.7,1175.9 2369.3,1180.6 2378.0,1182.5 C2386.7,1184.4 2389.6,1184.8 2395.4,1183.6 C2401.2,1182.4 2410.0,1176.8 2412.9,1175.5" fill="none" stroke="#d6d6d6" stroke-width="2.2" stroke-linecap="round" /><path d="M2319.7,1114.9 C2322.6,1116.5 2330.4,1120.8 2337.2,1124.3 C2344.0,1127.8 2353.7,1131.2 2360.5,1135.9 C2367.3,1140.6 2372.2,1147.6 2378.0,1152.2 C2383.8,1156.8 2388.6,1161.1 2395.4,1163.8 C2402.2,1166.5 2414.8,1167.7 2418.7,1168.5" fill="none" stroke="#bdbdbd" stroke-width="1.4" stroke-linecap="round" /><path d="M2233.6,1110.3 C2237.1,1113.4 2249.8,1124.6 2254.5,1128.9 C2259.2,1133.2 2256.4,1133.2 2261.5,1135.9 C2266.6,1138.6 2280.9,1143.7 2284.8,1145.2" fill="none" stroke="#c4c4c4" stroke-width="1.6" stroke-linecap="round" /></g></g>
<use href="#crab" transform="translate(1960,1100)"/>
<use href="#crab" transform="translate(2554,1198) rotate(22) scale(-1.16,1.16) translate(-38,-45)"/>
<g filter="url(#shBub)" fill="url(#bub)"><circle cx="747.1" cy="302" r="7.4"/><circle cx="808.6" cy="317" r="16.6"/><circle cx="766.6" cy="347.3" r="16.6"/><circle cx="841.1" cy="345.3" r="21.4"/><circle cx="717.3" cy="370.7" r="7.4"/><circle cx="817.3" cy="379.4" r="12.7"/><circle cx="725.1" cy="392.7" r="13.6"/><circle cx="782.2" cy="395.6" r="7.4"/><circle cx="804.7" cy="396.2" r="7.4"/><circle cx="864.5" cy="411.6" r="16.6"/><circle cx="746.5" cy="418.4" r="12.7"/><circle cx="764.7" cy="438.9" r="14"/><circle cx="822.2" cy="441.8" r="17.2"/><circle cx="748.5" cy="458.4" r="8.8"/><circle cx="770.9" cy="465.2" r="7.4"/><circle cx="797.2" cy="461.7" r="12.7"/><circle cx="720.6" cy="470.5" r="8.8"/><circle cx="870.8" cy="473.4" r="12.7"/><circle cx="762.5" cy="493.5" r="4.9"/><circle cx="778.1" cy="486.7" r="14"/><circle cx="834.3" cy="490" r="7.4"/><circle cx="798.2" cy="500.3" r="8.8"/><circle cx="770.9" cy="513.6" r="8.8"/><circle cx="797.8" cy="513" r="12.7"/><circle cx="724.1" cy="521.2" r="4.9"/><circle cx="753" cy="525.3" r="5.8"/><circle cx="814.8" cy="533.5" r="14"/><circle cx="772.9" cy="540.5" r="12.7"/><circle cx="882.5" cy="533.5" r="7.4"/><circle cx="797.2" cy="552.2" r="8.8"/><circle cx="846" cy="556.2" r="12.7"/><circle cx="769.6" cy="564.4" r="8.8"/><circle cx="803.1" cy="568.3" r="5.8"/><circle cx="774.8" cy="580" r="8.8"/><circle cx="752.4" cy="580.9" r="4.3"/><circle cx="746.5" cy="590.7" r="8.4"/><circle cx="810.9" cy="587.8" r="5.8"/><circle cx="845.4" cy="596" r="8.4"/><circle cx="778.7" cy="600" r="4.7"/><circle cx="817.1" cy="607.9" r="8.8"/><circle cx="854.4" cy="610.8" r="7.4"/><circle cx="760.8" cy="607.3" r="3.9"/><circle cx="769.4" cy="615.5" r="4.5"/><circle cx="789.8" cy="614.1" r="5.8"/><circle cx="799.6" cy="620.9" r="6.2"/><circle cx="818.3" cy="634.2" r="12.7"/><circle cx="858.7" cy="630.7" r="5.8"/><circle cx="749.9" cy="641.8" r="4.5"/><circle cx="772.9" cy="651.7" r="4.5"/><circle cx="779.7" cy="645.9" r="5.5"/><circle cx="811.3" cy="650.6" r="3.9"/><circle cx="817.3" cy="658.6" r="4.5"/><circle cx="847" cy="662.8" r="5.8"/><circle cx="817.7" cy="673.6" r="8.8"/><circle cx="794.7" cy="675.1" r="4.3"/><circle cx="754.9" cy="677.9" r="4.3"/><circle cx="789.1" cy="685.8" r="8.4"/><circle cx="820.6" cy="694.6" r="4.3"/><circle cx="777.7" cy="702.2" r="4.3"/><circle cx="802.7" cy="701.8" r="3.9"/><circle cx="831.4" cy="708.7" r="6.2"/><circle cx="842.1" cy="719" r="4.7"/><circle cx="786.9" cy="727.8" r="3.9"/><circle cx="789.4" cy="736" r="4.7"/><circle cx="819.1" cy="740.8" r="5.5"/><circle cx="850.5" cy="744.3" r="3.7"/><circle cx="792.8" cy="772.6" r="4.3"/><circle cx="814.4" cy="796.6" r="4.3"/><circle cx="822.4" cy="821.4" r="4.3"/><circle cx="799.5" cy="886.6" r="8"/><circle cx="829.6" cy="935.5" r="7.5"/><circle cx="850.9" cy="995.7" r="6.3"/><circle cx="918.1" cy="1232.9" r="6.3"/><circle cx="941.9" cy="1280" r="7.5"/><circle cx="986.3" cy="1324.9" r="6.3"/><circle cx="1020.9" cy="1395.1" r="8.8"/><circle cx="1064.8" cy="1431" r="8.8"/></g>
<text x="280" y="68.8" font-size="66.5" textLength="490.8" lengthAdjust="spacingAndGlyphs" fill="#000" xml:space="preserve">Terrestrial  input</text>
<text x="380" y="149.9" font-size="66.5" textLength="290.4" lengthAdjust="spacingAndGlyphs" fill="#000">Fe-Oxides</text>
<g filter="url(#shT)" fill="#fff"><text x="577.6" y="1066" font-size="66.4" textLength="578" lengthAdjust="spacingAndGlyphs">Anaerobic oxidation</text><text x="593.6" y="1146" font-size="66.4" textLength="547.5" lengthAdjust="spacingAndGlyphs">of methane (AOM)</text></g>
<g filter="url(#shT)" fill="#fff"><text x="416.8" y="880.3" font-size="53.5">SO<tspan font-size="36" dy="13">4</tspan><tspan font-size="36" dy="-31" dx="3">2-</tspan></text><text x="543.6" y="831.5" font-size="51">O<tspan font-size="36" dy="12" dx="3">2</tspan></text></g>
<g filter="url(#shT)" fill="#000"><text x="1198.6" y="1412.5" font-size="55.5">CH<tspan font-size="36" dy="13" dx="1.5">4</tspan></text></g>
</svg>
</body></html>
